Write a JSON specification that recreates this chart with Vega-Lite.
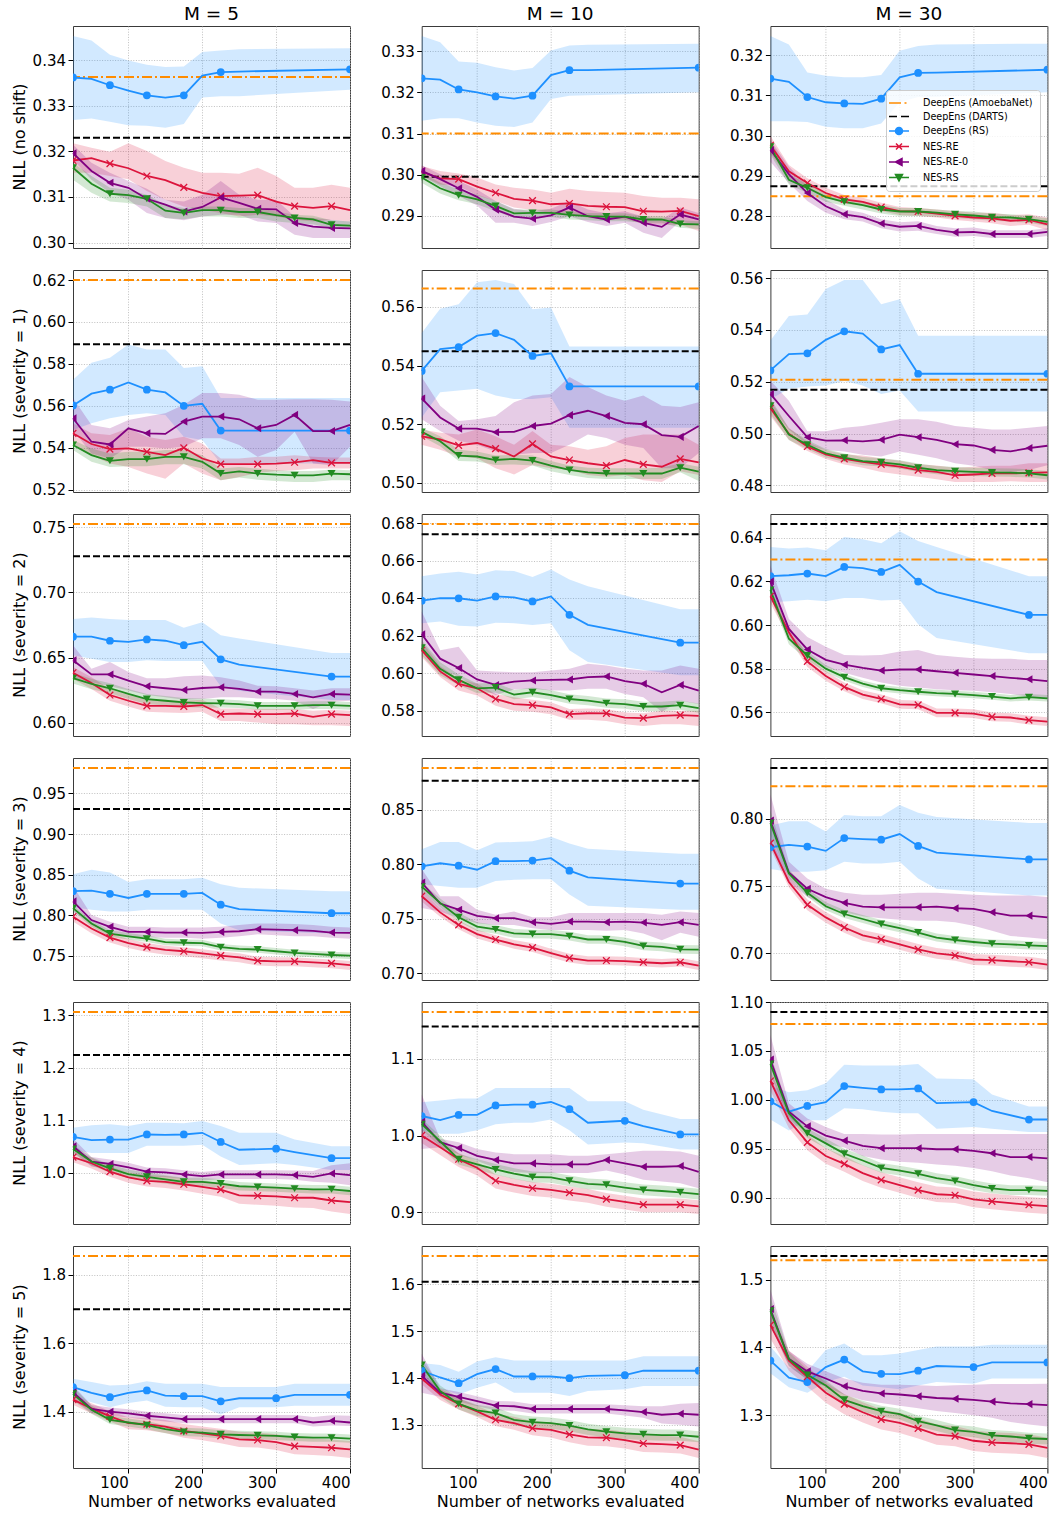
{
"$schema":"https://vega.github.io/schema/vega-lite/v6.json",
"padding":{"left":11,"top":4,"right":0,"bottom":0},
"datasets":{"d":[
{"r":0,"c":5,"s":"A","y":0.3363},{"r":0,"c":5,"s":"D","y":0.323},
{"r":0,"c":5,"s":"B","x":25,"y":0.3362,"l":0.3269,"h":0.3453},
{"r":0,"c":5,"s":"B","x":50,"y":0.3359,"l":0.3272,"h":0.3443},
{"r":0,"c":5,"s":"B","x":75,"y":0.3345,"l":0.3265,"h":0.3412},
{"r":0,"c":5,"s":"B","x":100,"y":0.3333,"l":0.3257,"h":0.3399},
{"r":0,"c":5,"s":"B","x":125,"y":0.3323,"l":0.3256,"h":0.339},
{"r":0,"c":5,"s":"B","x":150,"y":0.3318,"l":0.3252,"h":0.3385},
{"r":0,"c":5,"s":"B","x":175,"y":0.3323,"l":0.326,"h":0.3386},
{"r":0,"c":5,"s":"B","x":200,"y":0.3366,"l":0.3318,"h":0.3418},
{"r":0,"c":5,"s":"B","x":225,"y":0.3374,"l":0.3321,"h":0.3421},
{"r":0,"c":5,"s":"B","x":250,"y":0.3375,"l":0.3321,"h":0.3424},
{"r":0,"c":5,"s":"B","x":400,"y":0.338,"l":0.3335,"h":0.3426},
{"r":0,"c":5,"s":"R","x":25,"y":0.318,"l":0.3153,"h":0.3218},
{"r":0,"c":5,"s":"R","x":50,"y":0.3185,"l":0.3153,"h":0.3208},
{"r":0,"c":5,"s":"R","x":75,"y":0.3173,"l":0.3146,"h":0.3199},
{"r":0,"c":5,"s":"R","x":100,"y":0.3163,"l":0.3139,"h":0.3218},
{"r":0,"c":5,"s":"R","x":125,"y":0.3146,"l":0.3113,"h":0.3201},
{"r":0,"c":5,"s":"R","x":150,"y":0.3137,"l":0.3094,"h":0.3179},
{"r":0,"c":5,"s":"R","x":175,"y":0.3121,"l":0.3079,"h":0.3164},
{"r":0,"c":5,"s":"R","x":200,"y":0.3109,"l":0.3072,"h":0.3153},
{"r":0,"c":5,"s":"R","x":225,"y":0.3102,"l":0.3065,"h":0.3153},
{"r":0,"c":5,"s":"R","x":250,"y":0.3103,"l":0.3057,"h":0.3151},
{"r":0,"c":5,"s":"R","x":275,"y":0.3104,"l":0.3061,"h":0.3164},
{"r":0,"c":5,"s":"R","x":300,"y":0.309,"l":0.3057,"h":0.3146},
{"r":0,"c":5,"s":"R","x":325,"y":0.308,"l":0.305,"h":0.312},
{"r":0,"c":5,"s":"R","x":350,"y":0.3076,"l":0.3046,"h":0.312},
{"r":0,"c":5,"s":"R","x":375,"y":0.308,"l":0.305,"h":0.3127},
{"r":0,"c":5,"s":"R","x":400,"y":0.3071,"l":0.3046,"h":0.312},
{"r":0,"c":5,"s":"P","x":25,"y":0.3196,"l":0.3182,"h":0.3215},
{"r":0,"c":5,"s":"P","x":50,"y":0.3157,"l":0.3138,"h":0.3175},
{"r":0,"c":5,"s":"P","x":75,"y":0.3131,"l":0.3109,"h":0.3153},
{"r":0,"c":5,"s":"P","x":100,"y":0.312,"l":0.3094,"h":0.3135},
{"r":0,"c":5,"s":"P","x":125,"y":0.3096,"l":0.3065,"h":0.3118},
{"r":0,"c":5,"s":"P","x":150,"y":0.3083,"l":0.3054,"h":0.3094},
{"r":0,"c":5,"s":"P","x":175,"y":0.3068,"l":0.3049,"h":0.309},
{"r":0,"c":5,"s":"P","x":200,"y":0.3078,"l":0.3057,"h":0.3105},
{"r":0,"c":5,"s":"P","x":225,"y":0.3099,"l":0.3061,"h":0.3135},
{"r":0,"c":5,"s":"P","x":250,"y":0.3087,"l":0.3061,"h":0.3105},
{"r":0,"c":5,"s":"P","x":275,"y":0.3074,"l":0.3046,"h":0.3094},
{"r":0,"c":5,"s":"P","x":300,"y":0.3073,"l":0.3043,"h":0.3094},
{"r":0,"c":5,"s":"P","x":325,"y":0.3043,"l":0.3017,"h":0.3057},
{"r":0,"c":5,"s":"P","x":350,"y":0.3035,"l":0.301,"h":0.3054},
{"r":0,"c":5,"s":"P","x":375,"y":0.3032,"l":0.301,"h":0.305},
{"r":0,"c":5,"s":"P","x":400,"y":0.3031,"l":0.301,"h":0.3046},
{"r":0,"c":5,"s":"G","x":25,"y":0.3164,"l":0.3138,"h":0.3175},
{"r":0,"c":5,"s":"G","x":50,"y":0.3129,"l":0.3109,"h":0.3146},
{"r":0,"c":5,"s":"G","x":75,"y":0.3107,"l":0.309,"h":0.312},
{"r":0,"c":5,"s":"G","x":100,"y":0.3104,"l":0.3087,"h":0.3116},
{"r":0,"c":5,"s":"G","x":125,"y":0.3096,"l":0.3079,"h":0.3105},
{"r":0,"c":5,"s":"G","x":150,"y":0.307,"l":0.3054,"h":0.3083},
{"r":0,"c":5,"s":"G","x":175,"y":0.3065,"l":0.3051,"h":0.3076},
{"r":0,"c":5,"s":"G","x":200,"y":0.3071,"l":0.3057,"h":0.3079},
{"r":0,"c":5,"s":"G","x":225,"y":0.3071,"l":0.3057,"h":0.3079},
{"r":0,"c":5,"s":"G","x":250,"y":0.3067,"l":0.3054,"h":0.3076},
{"r":0,"c":5,"s":"G","x":275,"y":0.3067,"l":0.3054,"h":0.3076},
{"r":0,"c":5,"s":"G","x":300,"y":0.306,"l":0.3046,"h":0.3068},
{"r":0,"c":5,"s":"G","x":325,"y":0.3054,"l":0.3043,"h":0.3061},
{"r":0,"c":5,"s":"G","x":350,"y":0.3051,"l":0.304,"h":0.3059},
{"r":0,"c":5,"s":"G","x":375,"y":0.3039,"l":0.3032,"h":0.3049},
{"r":0,"c":5,"s":"G","x":400,"y":0.3037,"l":0.303,"h":0.3046},
{"r":0,"c":10,"s":"A","y":0.31},{"r":0,"c":10,"s":"D","y":0.2995},
{"r":0,"c":10,"s":"B","x":25,"y":0.3234,"l":0.3131,"h":0.3337},
{"r":0,"c":10,"s":"B","x":50,"y":0.3231,"l":0.3137,"h":0.3322},
{"r":0,"c":10,"s":"B","x":75,"y":0.3207,"l":0.3137,"h":0.3275},
{"r":0,"c":10,"s":"B","x":100,"y":0.32,"l":0.3127,"h":0.3272},
{"r":0,"c":10,"s":"B","x":125,"y":0.319,"l":0.3119,"h":0.3261},
{"r":0,"c":10,"s":"B","x":150,"y":0.3185,"l":0.3116,"h":0.3253},
{"r":0,"c":10,"s":"B","x":175,"y":0.3192,"l":0.3127,"h":0.3259},
{"r":0,"c":10,"s":"B","x":200,"y":0.3242,"l":0.3184,"h":0.3302},
{"r":0,"c":10,"s":"B","x":225,"y":0.3254,"l":0.3192,"h":0.3314},
{"r":0,"c":10,"s":"B","x":250,"y":0.3254,"l":0.3193,"h":0.3316},
{"r":0,"c":10,"s":"B","x":400,"y":0.326,"l":0.32,"h":0.3318},
{"r":0,"c":10,"s":"R","x":25,"y":0.3007,"l":0.2997,"h":0.3021},
{"r":0,"c":10,"s":"R","x":50,"y":0.2991,"l":0.2976,"h":0.3009},
{"r":0,"c":10,"s":"R","x":75,"y":0.2989,"l":0.2972,"h":0.3003},
{"r":0,"c":10,"s":"R","x":100,"y":0.2971,"l":0.295,"h":0.2993},
{"r":0,"c":10,"s":"R","x":125,"y":0.2956,"l":0.2936,"h":0.2976},
{"r":0,"c":10,"s":"R","x":150,"y":0.2941,"l":0.292,"h":0.2968},
{"r":0,"c":10,"s":"R","x":175,"y":0.2937,"l":0.2914,"h":0.2964},
{"r":0,"c":10,"s":"R","x":200,"y":0.2928,"l":0.2907,"h":0.2956},
{"r":0,"c":10,"s":"R","x":225,"y":0.293,"l":0.2903,"h":0.2966},
{"r":0,"c":10,"s":"R","x":250,"y":0.2924,"l":0.2895,"h":0.296},
{"r":0,"c":10,"s":"R","x":275,"y":0.2922,"l":0.2891,"h":0.2958},
{"r":0,"c":10,"s":"R","x":300,"y":0.2921,"l":0.2891,"h":0.2956},
{"r":0,"c":10,"s":"R","x":325,"y":0.2911,"l":0.2881,"h":0.2948},
{"r":0,"c":10,"s":"R","x":350,"y":0.291,"l":0.2878,"h":0.2944},
{"r":0,"c":10,"s":"R","x":375,"y":0.2912,"l":0.2878,"h":0.2944},
{"r":0,"c":10,"s":"R","x":400,"y":0.2899,"l":0.2863,"h":0.294},
{"r":0,"c":10,"s":"P","x":25,"y":0.3009,"l":0.2997,"h":0.3023},
{"r":0,"c":10,"s":"P","x":50,"y":0.2989,"l":0.2972,"h":0.3001},
{"r":0,"c":10,"s":"P","x":75,"y":0.2967,"l":0.2948,"h":0.2985},
{"r":0,"c":10,"s":"P","x":100,"y":0.2946,"l":0.2925,"h":0.2964},
{"r":0,"c":10,"s":"P","x":125,"y":0.2915,"l":0.2883,"h":0.2936},
{"r":0,"c":10,"s":"P","x":150,"y":0.2898,"l":0.2883,"h":0.2917},
{"r":0,"c":10,"s":"P","x":175,"y":0.2893,"l":0.2875,"h":0.2911},
{"r":0,"c":10,"s":"P","x":200,"y":0.2901,"l":0.2885,"h":0.2917},
{"r":0,"c":10,"s":"P","x":225,"y":0.292,"l":0.2899,"h":0.2936},
{"r":0,"c":10,"s":"P","x":250,"y":0.2899,"l":0.2885,"h":0.2915},
{"r":0,"c":10,"s":"P","x":275,"y":0.2891,"l":0.2875,"h":0.2906},
{"r":0,"c":10,"s":"P","x":300,"y":0.2898,"l":0.2883,"h":0.2911},
{"r":0,"c":10,"s":"P","x":325,"y":0.2883,"l":0.2859,"h":0.2898},
{"r":0,"c":10,"s":"P","x":350,"y":0.2873,"l":0.2846,"h":0.2891},
{"r":0,"c":10,"s":"P","x":375,"y":0.2903,"l":0.2887,"h":0.292},
{"r":0,"c":10,"s":"P","x":400,"y":0.2891,"l":0.2875,"h":0.2907},
{"r":0,"c":10,"s":"G","x":25,"y":0.2993,"l":0.298,"h":0.3005},
{"r":0,"c":10,"s":"G","x":50,"y":0.2967,"l":0.2954,"h":0.298},
{"r":0,"c":10,"s":"G","x":75,"y":0.295,"l":0.2938,"h":0.2964},
{"r":0,"c":10,"s":"G","x":100,"y":0.294,"l":0.2928,"h":0.2952},
{"r":0,"c":10,"s":"G","x":125,"y":0.2924,"l":0.2911,"h":0.2936},
{"r":0,"c":10,"s":"G","x":150,"y":0.2906,"l":0.2895,"h":0.2915},
{"r":0,"c":10,"s":"G","x":175,"y":0.2907,"l":0.2895,"h":0.2915},
{"r":0,"c":10,"s":"G","x":200,"y":0.2907,"l":0.2897,"h":0.2915},
{"r":0,"c":10,"s":"G","x":225,"y":0.2902,"l":0.2891,"h":0.2911},
{"r":0,"c":10,"s":"G","x":250,"y":0.2899,"l":0.2889,"h":0.2907},
{"r":0,"c":10,"s":"G","x":275,"y":0.2898,"l":0.2887,"h":0.2906},
{"r":0,"c":10,"s":"G","x":300,"y":0.2898,"l":0.2887,"h":0.2906},
{"r":0,"c":10,"s":"G","x":325,"y":0.2891,"l":0.2883,"h":0.2899},
{"r":0,"c":10,"s":"G","x":350,"y":0.2891,"l":0.2883,"h":0.2899},
{"r":0,"c":10,"s":"G","x":375,"y":0.288,"l":0.2871,"h":0.2889},
{"r":0,"c":10,"s":"G","x":400,"y":0.2879,"l":0.2868,"h":0.2887},
{"r":0,"c":30,"s":"A","y":0.2849},{"r":0,"c":30,"s":"D","y":0.2874},
{"r":0,"c":30,"s":"B","x":25,"y":0.3142,"l":0.3036,"h":0.3248},
{"r":0,"c":30,"s":"B","x":50,"y":0.3134,"l":0.3036,"h":0.3227},
{"r":0,"c":30,"s":"B","x":75,"y":0.3096,"l":0.3034,"h":0.3157},
{"r":0,"c":30,"s":"B","x":100,"y":0.3083,"l":0.3022,"h":0.3149},
{"r":0,"c":30,"s":"B","x":125,"y":0.308,"l":0.3018,"h":0.3145},
{"r":0,"c":30,"s":"B","x":150,"y":0.3079,"l":0.3018,"h":0.3145},
{"r":0,"c":30,"s":"B","x":175,"y":0.3092,"l":0.303,"h":0.3151},
{"r":0,"c":30,"s":"B","x":200,"y":0.3145,"l":0.3083,"h":0.3211},
{"r":0,"c":30,"s":"B","x":225,"y":0.3156,"l":0.3096,"h":0.3223},
{"r":0,"c":30,"s":"B","x":250,"y":0.3157,"l":0.3097,"h":0.3227},
{"r":0,"c":30,"s":"B","x":400,"y":0.3164,"l":0.3108,"h":0.3229},
{"r":0,"c":30,"s":"R","x":25,"y":0.2976,"l":0.2956,"h":0.2999},
{"r":0,"c":30,"s":"R","x":50,"y":0.2911,"l":0.2894,"h":0.2927},
{"r":0,"c":30,"s":"R","x":75,"y":0.2882,"l":0.287,"h":0.2894},
{"r":0,"c":30,"s":"R","x":100,"y":0.2857,"l":0.2847,"h":0.287},
{"r":0,"c":30,"s":"R","x":125,"y":0.2841,"l":0.283,"h":0.2852},
{"r":0,"c":30,"s":"R","x":150,"y":0.2835,"l":0.2825,"h":0.2845},
{"r":0,"c":30,"s":"R","x":175,"y":0.2822,"l":0.2812,"h":0.2833},
{"r":0,"c":30,"s":"R","x":200,"y":0.2812,"l":0.2802,"h":0.2822},
{"r":0,"c":30,"s":"R","x":225,"y":0.2811,"l":0.28,"h":0.282},
{"r":0,"c":30,"s":"R","x":250,"y":0.2806,"l":0.2796,"h":0.2816},
{"r":0,"c":30,"s":"R","x":275,"y":0.28,"l":0.279,"h":0.2812},
{"r":0,"c":30,"s":"R","x":300,"y":0.2796,"l":0.2786,"h":0.2808},
{"r":0,"c":30,"s":"R","x":325,"y":0.2794,"l":0.2782,"h":0.2808},
{"r":0,"c":30,"s":"R","x":350,"y":0.2788,"l":0.2775,"h":0.2802},
{"r":0,"c":30,"s":"R","x":375,"y":0.279,"l":0.2778,"h":0.2804},
{"r":0,"c":30,"s":"R","x":400,"y":0.2779,"l":0.2764,"h":0.2796},
{"r":0,"c":30,"s":"P","x":25,"y":0.2964,"l":0.2935,"h":0.2989},
{"r":0,"c":30,"s":"P","x":50,"y":0.2904,"l":0.2882,"h":0.2923},
{"r":0,"c":30,"s":"P","x":75,"y":0.2857,"l":0.2837,"h":0.2874},
{"r":0,"c":30,"s":"P","x":100,"y":0.2824,"l":0.2808,"h":0.2841},
{"r":0,"c":30,"s":"P","x":125,"y":0.2804,"l":0.2792,"h":0.2816},
{"r":0,"c":30,"s":"P","x":150,"y":0.2797,"l":0.2786,"h":0.2808},
{"r":0,"c":30,"s":"P","x":175,"y":0.2781,"l":0.2769,"h":0.2792},
{"r":0,"c":30,"s":"P","x":200,"y":0.2773,"l":0.2761,"h":0.2784},
{"r":0,"c":30,"s":"P","x":225,"y":0.2775,"l":0.2763,"h":0.2787},
{"r":0,"c":30,"s":"P","x":250,"y":0.2765,"l":0.2755,"h":0.2775},
{"r":0,"c":30,"s":"P","x":275,"y":0.2759,"l":0.2748,"h":0.2769},
{"r":0,"c":30,"s":"P","x":300,"y":0.276,"l":0.275,"h":0.2771},
{"r":0,"c":30,"s":"P","x":325,"y":0.2755,"l":0.2745,"h":0.2764},
{"r":0,"c":30,"s":"P","x":350,"y":0.2755,"l":0.2745,"h":0.2764},
{"r":0,"c":30,"s":"P","x":375,"y":0.2755,"l":0.2745,"h":0.2764},
{"r":0,"c":30,"s":"P","x":400,"y":0.276,"l":0.275,"h":0.2769},
{"r":0,"c":30,"s":"G","x":25,"y":0.2972,"l":0.2952,"h":0.2989},
{"r":0,"c":30,"s":"G","x":50,"y":0.289,"l":0.2878,"h":0.2903},
{"r":0,"c":30,"s":"G","x":75,"y":0.287,"l":0.2857,"h":0.288},
{"r":0,"c":30,"s":"G","x":100,"y":0.2847,"l":0.2835,"h":0.2857},
{"r":0,"c":30,"s":"G","x":125,"y":0.2835,"l":0.2825,"h":0.2845},
{"r":0,"c":30,"s":"G","x":150,"y":0.2827,"l":0.2816,"h":0.2837},
{"r":0,"c":30,"s":"G","x":175,"y":0.2816,"l":0.2806,"h":0.2827},
{"r":0,"c":30,"s":"G","x":200,"y":0.2811,"l":0.28,"h":0.282},
{"r":0,"c":30,"s":"G","x":225,"y":0.2811,"l":0.28,"h":0.282},
{"r":0,"c":30,"s":"G","x":250,"y":0.2808,"l":0.2798,"h":0.2816},
{"r":0,"c":30,"s":"G","x":275,"y":0.2804,"l":0.2795,"h":0.2812},
{"r":0,"c":30,"s":"G","x":300,"y":0.2801,"l":0.2792,"h":0.2811},
{"r":0,"c":30,"s":"G","x":325,"y":0.2797,"l":0.2788,"h":0.2806},
{"r":0,"c":30,"s":"G","x":350,"y":0.2796,"l":0.2786,"h":0.2804},
{"r":0,"c":30,"s":"G","x":375,"y":0.2792,"l":0.2783,"h":0.28},
{"r":0,"c":30,"s":"G","x":400,"y":0.2785,"l":0.2775,"h":0.2794},
{"r":1,"c":5,"s":"A","y":0.62},{"r":1,"c":5,"s":"D","y":0.5894},
{"r":1,"c":5,"s":"B","x":25,"y":0.5602,"l":0.5485,"h":0.5725},
{"r":1,"c":5,"s":"B","x":50,"y":0.5658,"l":0.5517,"h":0.5805},
{"r":1,"c":5,"s":"B","x":75,"y":0.5677,"l":0.5541,"h":0.5829},
{"r":1,"c":5,"s":"B","x":100,"y":0.5712,"l":0.5557,"h":0.5893},
{"r":1,"c":5,"s":"B","x":125,"y":0.5677,"l":0.5565,"h":0.5869},
{"r":1,"c":5,"s":"B","x":150,"y":0.5664,"l":0.5557,"h":0.5869},
{"r":1,"c":5,"s":"B","x":175,"y":0.56,"l":0.5453,"h":0.5781},
{"r":1,"c":5,"s":"B","x":200,"y":0.561,"l":0.5437,"h":0.5789},
{"r":1,"c":5,"s":"B","x":225,"y":0.5482,"l":0.5325,"h":0.5637},
{"r":1,"c":5,"s":"B","x":250,"y":0.5482,"l":0.5325,"h":0.5637},
{"r":1,"c":5,"s":"B","x":400,"y":0.5482,"l":0.5325,"h":0.5637},
{"r":1,"c":5,"s":"R","x":25,"y":0.5469,"l":0.5421,"h":0.5517},
{"r":1,"c":5,"s":"R","x":50,"y":0.5418,"l":0.5365,"h":0.5469},
{"r":1,"c":5,"s":"R","x":75,"y":0.5394,"l":0.5325,"h":0.5461},
{"r":1,"c":5,"s":"R","x":100,"y":0.5397,"l":0.5309,"h":0.5493},
{"r":1,"c":5,"s":"R","x":125,"y":0.5381,"l":0.5277,"h":0.5453},
{"r":1,"c":5,"s":"R","x":150,"y":0.5365,"l":0.5253,"h":0.5437},
{"r":1,"c":5,"s":"R","x":175,"y":0.54,"l":0.5325,"h":0.5453},
{"r":1,"c":5,"s":"R","x":200,"y":0.5349,"l":0.5277,"h":0.5421},
{"r":1,"c":5,"s":"R","x":225,"y":0.5322,"l":0.5245,"h":0.5349},
{"r":1,"c":5,"s":"R","x":250,"y":0.5322,"l":0.5261,"h":0.5349},
{"r":1,"c":5,"s":"R","x":275,"y":0.5322,"l":0.528,"h":0.5357},
{"r":1,"c":5,"s":"R","x":300,"y":0.5325,"l":0.529,"h":0.5357},
{"r":1,"c":5,"s":"R","x":325,"y":0.5331,"l":0.5293,"h":0.5365},
{"r":1,"c":5,"s":"R","x":350,"y":0.5341,"l":0.5301,"h":0.5357},
{"r":1,"c":5,"s":"R","x":375,"y":0.5328,"l":0.5301,"h":0.5354},
{"r":1,"c":5,"s":"R","x":400,"y":0.5328,"l":0.5301,"h":0.5354},
{"r":1,"c":5,"s":"P","x":25,"y":0.5541,"l":0.5485,"h":0.5637},
{"r":1,"c":5,"s":"P","x":50,"y":0.5429,"l":0.5373,"h":0.5509},
{"r":1,"c":5,"s":"P","x":75,"y":0.5416,"l":0.5349,"h":0.5493},
{"r":1,"c":5,"s":"P","x":100,"y":0.5493,"l":0.5405,"h":0.5533},
{"r":1,"c":5,"s":"P","x":125,"y":0.5469,"l":0.5405,"h":0.5549},
{"r":1,"c":5,"s":"P","x":150,"y":0.5466,"l":0.5397,"h":0.5565},
{"r":1,"c":5,"s":"P","x":175,"y":0.5525,"l":0.5405,"h":0.5605},
{"r":1,"c":5,"s":"P","x":200,"y":0.5549,"l":0.5445,"h":0.5661},
{"r":1,"c":5,"s":"P","x":225,"y":0.5549,"l":0.5445,"h":0.5661},
{"r":1,"c":5,"s":"P","x":250,"y":0.5536,"l":0.5413,"h":0.5653},
{"r":1,"c":5,"s":"P","x":275,"y":0.5493,"l":0.5357,"h":0.5629},
{"r":1,"c":5,"s":"P","x":300,"y":0.5509,"l":0.5389,"h":0.5629},
{"r":1,"c":5,"s":"P","x":325,"y":0.5557,"l":0.5477,"h":0.5632},
{"r":1,"c":5,"s":"P","x":350,"y":0.548,"l":0.5325,"h":0.5632},
{"r":1,"c":5,"s":"P","x":375,"y":0.548,"l":0.5317,"h":0.5629},
{"r":1,"c":5,"s":"P","x":400,"y":0.5509,"l":0.5405,"h":0.5621},
{"r":1,"c":5,"s":"G","x":25,"y":0.5413,"l":0.5389,"h":0.5437},
{"r":1,"c":5,"s":"G","x":50,"y":0.5365,"l":0.5333,"h":0.5397},
{"r":1,"c":5,"s":"G","x":75,"y":0.5338,"l":0.5309,"h":0.5373},
{"r":1,"c":5,"s":"G","x":100,"y":0.5346,"l":0.5312,"h":0.5381},
{"r":1,"c":5,"s":"G","x":125,"y":0.5346,"l":0.5312,"h":0.5381},
{"r":1,"c":5,"s":"G","x":150,"y":0.5357,"l":0.5322,"h":0.5389},
{"r":1,"c":5,"s":"G","x":175,"y":0.5357,"l":0.5322,"h":0.5389},
{"r":1,"c":5,"s":"G","x":200,"y":0.5333,"l":0.5301,"h":0.5365},
{"r":1,"c":5,"s":"G","x":225,"y":0.5277,"l":0.5245,"h":0.5301},
{"r":1,"c":5,"s":"G","x":250,"y":0.5288,"l":0.5258,"h":0.5309},
{"r":1,"c":5,"s":"G","x":275,"y":0.5277,"l":0.5248,"h":0.5301},
{"r":1,"c":5,"s":"G","x":300,"y":0.5272,"l":0.5242,"h":0.5293},
{"r":1,"c":5,"s":"G","x":325,"y":0.5269,"l":0.5237,"h":0.529},
{"r":1,"c":5,"s":"G","x":350,"y":0.5269,"l":0.5237,"h":0.529},
{"r":1,"c":5,"s":"G","x":375,"y":0.5277,"l":0.5245,"h":0.5297},
{"r":1,"c":5,"s":"G","x":400,"y":0.5274,"l":0.5245,"h":0.5293},
{"r":1,"c":10,"s":"A","y":0.5663},{"r":1,"c":10,"s":"D","y":0.5449},
{"r":1,"c":10,"s":"B","x":25,"y":0.5382,"l":0.5223,"h":0.5511},
{"r":1,"c":10,"s":"B","x":50,"y":0.5456,"l":0.5309,"h":0.5594},
{"r":1,"c":10,"s":"B","x":75,"y":0.5463,"l":0.5315,"h":0.5609},
{"r":1,"c":10,"s":"B","x":100,"y":0.5502,"l":0.5321,"h":0.5684},
{"r":1,"c":10,"s":"B","x":125,"y":0.5511,"l":0.5298,"h":0.5692},
{"r":1,"c":10,"s":"B","x":150,"y":0.5488,"l":0.5286,"h":0.5678},
{"r":1,"c":10,"s":"B","x":175,"y":0.5433,"l":0.5286,"h":0.5592},
{"r":1,"c":10,"s":"B","x":200,"y":0.5442,"l":0.5292,"h":0.5598},
{"r":1,"c":10,"s":"B","x":225,"y":0.5329,"l":0.5188,"h":0.5465},
{"r":1,"c":10,"s":"B","x":250,"y":0.5329,"l":0.5188,"h":0.5465},
{"r":1,"c":10,"s":"B","x":400,"y":0.5329,"l":0.5188,"h":0.5465},
{"r":1,"c":10,"s":"R","x":25,"y":0.5159,"l":0.513,"h":0.5182},
{"r":1,"c":10,"s":"R","x":50,"y":0.5148,"l":0.5113,"h":0.5171},
{"r":1,"c":10,"s":"R","x":75,"y":0.5128,"l":0.509,"h":0.5165},
{"r":1,"c":10,"s":"R","x":100,"y":0.5136,"l":0.5084,"h":0.5182},
{"r":1,"c":10,"s":"R","x":125,"y":0.5117,"l":0.505,"h":0.5159},
{"r":1,"c":10,"s":"R","x":150,"y":0.509,"l":0.5029,"h":0.513},
{"r":1,"c":10,"s":"R","x":175,"y":0.5133,"l":0.5061,"h":0.5177},
{"r":1,"c":10,"s":"R","x":200,"y":0.509,"l":0.505,"h":0.513},
{"r":1,"c":10,"s":"R","x":225,"y":0.5078,"l":0.5044,"h":0.5125},
{"r":1,"c":10,"s":"R","x":250,"y":0.5067,"l":0.5027,"h":0.5113},
{"r":1,"c":10,"s":"R","x":275,"y":0.5059,"l":0.5021,"h":0.5125},
{"r":1,"c":10,"s":"R","x":300,"y":0.5078,"l":0.5027,"h":0.5153},
{"r":1,"c":10,"s":"R","x":325,"y":0.5063,"l":0.5009,"h":0.5165},
{"r":1,"c":10,"s":"R","x":350,"y":0.5055,"l":0.5003,"h":0.5165},
{"r":1,"c":10,"s":"R","x":375,"y":0.5082,"l":0.504,"h":0.5165},
{"r":1,"c":10,"s":"R","x":400,"y":0.507,"l":0.5027,"h":0.513},
{"r":1,"c":10,"s":"P","x":25,"y":0.5288,"l":0.5217,"h":0.5361},
{"r":1,"c":10,"s":"P","x":50,"y":0.5223,"l":0.5177,"h":0.5263},
{"r":1,"c":10,"s":"P","x":75,"y":0.5185,"l":0.5144,"h":0.5211},
{"r":1,"c":10,"s":"P","x":100,"y":0.5185,"l":0.513,"h":0.5217},
{"r":1,"c":10,"s":"P","x":125,"y":0.5173,"l":0.5107,"h":0.5228},
{"r":1,"c":10,"s":"P","x":150,"y":0.5174,"l":0.5096,"h":0.5275},
{"r":1,"c":10,"s":"P","x":175,"y":0.5194,"l":0.5102,"h":0.5298},
{"r":1,"c":10,"s":"P","x":200,"y":0.5202,"l":0.5102,"h":0.5303},
{"r":1,"c":10,"s":"P","x":225,"y":0.5231,"l":0.513,"h":0.5361},
{"r":1,"c":10,"s":"P","x":250,"y":0.5246,"l":0.5165,"h":0.5327},
{"r":1,"c":10,"s":"P","x":275,"y":0.5228,"l":0.5153,"h":0.5298},
{"r":1,"c":10,"s":"P","x":300,"y":0.5205,"l":0.513,"h":0.528},
{"r":1,"c":10,"s":"P","x":325,"y":0.52,"l":0.5119,"h":0.5298},
{"r":1,"c":10,"s":"P","x":350,"y":0.5163,"l":0.505,"h":0.5263},
{"r":1,"c":10,"s":"P","x":375,"y":0.5157,"l":0.505,"h":0.5259},
{"r":1,"c":10,"s":"P","x":400,"y":0.5194,"l":0.5102,"h":0.5275},
{"r":1,"c":10,"s":"G","x":25,"y":0.5174,"l":0.5159,"h":0.5188},
{"r":1,"c":10,"s":"G","x":50,"y":0.5142,"l":0.5125,"h":0.5159},
{"r":1,"c":10,"s":"G","x":75,"y":0.5093,"l":0.5075,"h":0.5113},
{"r":1,"c":10,"s":"G","x":100,"y":0.509,"l":0.5073,"h":0.5107},
{"r":1,"c":10,"s":"G","x":125,"y":0.5078,"l":0.5061,"h":0.5093},
{"r":1,"c":10,"s":"G","x":150,"y":0.5082,"l":0.5063,"h":0.5096},
{"r":1,"c":10,"s":"G","x":175,"y":0.5076,"l":0.5059,"h":0.5093},
{"r":1,"c":10,"s":"G","x":200,"y":0.5059,"l":0.504,"h":0.5075},
{"r":1,"c":10,"s":"G","x":225,"y":0.5044,"l":0.5027,"h":0.5059},
{"r":1,"c":10,"s":"G","x":250,"y":0.5036,"l":0.5017,"h":0.5052},
{"r":1,"c":10,"s":"G","x":275,"y":0.5032,"l":0.5013,"h":0.505},
{"r":1,"c":10,"s":"G","x":300,"y":0.5032,"l":0.5013,"h":0.505},
{"r":1,"c":10,"s":"G","x":325,"y":0.5032,"l":0.5013,"h":0.505},
{"r":1,"c":10,"s":"G","x":350,"y":0.5032,"l":0.5013,"h":0.5052},
{"r":1,"c":10,"s":"G","x":375,"y":0.5052,"l":0.5036,"h":0.5067},
{"r":1,"c":10,"s":"G","x":400,"y":0.5038,"l":0.5006,"h":0.5055},
{"r":1,"c":30,"s":"A","y":0.5208},{"r":1,"c":30,"s":"D","y":0.5169},
{"r":1,"c":30,"s":"B","x":25,"y":0.5244,"l":0.5133,"h":0.5359},
{"r":1,"c":30,"s":"B","x":50,"y":0.5307,"l":0.5173,"h":0.5454},
{"r":1,"c":30,"s":"B","x":75,"y":0.531,"l":0.5182,"h":0.546},
{"r":1,"c":30,"s":"B","x":100,"y":0.5362,"l":0.5186,"h":0.5558},
{"r":1,"c":30,"s":"B","x":125,"y":0.5395,"l":0.5203,"h":0.5593},
{"r":1,"c":30,"s":"B","x":150,"y":0.5386,"l":0.5186,"h":0.5593},
{"r":1,"c":30,"s":"B","x":175,"y":0.5325,"l":0.5153,"h":0.5499},
{"r":1,"c":30,"s":"B","x":200,"y":0.5342,"l":0.5166,"h":0.5519},
{"r":1,"c":30,"s":"B","x":225,"y":0.5231,"l":0.5085,"h":0.5378},
{"r":1,"c":30,"s":"B","x":250,"y":0.5231,"l":0.5085,"h":0.5378},
{"r":1,"c":30,"s":"B","x":400,"y":0.5231,"l":0.5085,"h":0.5378},
{"r":1,"c":30,"s":"R","x":25,"y":0.5098,"l":0.5068,"h":0.5127},
{"r":1,"c":30,"s":"R","x":50,"y":0.4999,"l":0.4976,"h":0.5022},
{"r":1,"c":30,"s":"R","x":75,"y":0.495,"l":0.4933,"h":0.4967},
{"r":1,"c":30,"s":"R","x":100,"y":0.492,"l":0.4902,"h":0.4937},
{"r":1,"c":30,"s":"R","x":125,"y":0.4902,"l":0.4881,"h":0.492},
{"r":1,"c":30,"s":"R","x":150,"y":0.4891,"l":0.4868,"h":0.4915},
{"r":1,"c":30,"s":"R","x":175,"y":0.4881,"l":0.4852,"h":0.4905},
{"r":1,"c":30,"s":"R","x":200,"y":0.4872,"l":0.4842,"h":0.4895},
{"r":1,"c":30,"s":"R","x":225,"y":0.4859,"l":0.4833,"h":0.4882},
{"r":1,"c":30,"s":"R","x":250,"y":0.4852,"l":0.4824,"h":0.4877},
{"r":1,"c":30,"s":"R","x":275,"y":0.4839,"l":0.4813,"h":0.4868},
{"r":1,"c":30,"s":"R","x":300,"y":0.4842,"l":0.4813,"h":0.4872},
{"r":1,"c":30,"s":"R","x":325,"y":0.4846,"l":0.4813,"h":0.4876},
{"r":1,"c":30,"s":"R","x":350,"y":0.4846,"l":0.4816,"h":0.4876},
{"r":1,"c":30,"s":"R","x":375,"y":0.4848,"l":0.4813,"h":0.4885},
{"r":1,"c":30,"s":"R","x":400,"y":0.485,"l":0.4813,"h":0.4885},
{"r":1,"c":30,"s":"P","x":25,"y":0.5153,"l":0.5107,"h":0.5205},
{"r":1,"c":30,"s":"P","x":50,"y":0.5068,"l":0.5016,"h":0.5127},
{"r":1,"c":30,"s":"P","x":75,"y":0.4986,"l":0.4957,"h":0.5009},
{"r":1,"c":30,"s":"P","x":100,"y":0.4973,"l":0.4937,"h":0.5009},
{"r":1,"c":30,"s":"P","x":125,"y":0.4974,"l":0.4931,"h":0.5022},
{"r":1,"c":30,"s":"P","x":150,"y":0.497,"l":0.4918,"h":0.5029},
{"r":1,"c":30,"s":"P","x":175,"y":0.4976,"l":0.4911,"h":0.5042},
{"r":1,"c":30,"s":"P","x":200,"y":0.4996,"l":0.4931,"h":0.5055},
{"r":1,"c":30,"s":"P","x":225,"y":0.4986,"l":0.4918,"h":0.5055},
{"r":1,"c":30,"s":"P","x":250,"y":0.4976,"l":0.4905,"h":0.5046},
{"r":1,"c":30,"s":"P","x":275,"y":0.4959,"l":0.4885,"h":0.5029},
{"r":1,"c":30,"s":"P","x":300,"y":0.4954,"l":0.4876,"h":0.5022},
{"r":1,"c":30,"s":"P","x":325,"y":0.4937,"l":0.4859,"h":0.5016},
{"r":1,"c":30,"s":"P","x":350,"y":0.4931,"l":0.4852,"h":0.5016},
{"r":1,"c":30,"s":"P","x":375,"y":0.4944,"l":0.4859,"h":0.5022},
{"r":1,"c":30,"s":"P","x":400,"y":0.4953,"l":0.4878,"h":0.5029},
{"r":1,"c":30,"s":"G","x":25,"y":0.5107,"l":0.5077,"h":0.5137},
{"r":1,"c":30,"s":"G","x":50,"y":0.4996,"l":0.4975,"h":0.502},
{"r":1,"c":30,"s":"G","x":75,"y":0.4957,"l":0.494,"h":0.4975},
{"r":1,"c":30,"s":"G","x":100,"y":0.4924,"l":0.4908,"h":0.494},
{"r":1,"c":30,"s":"G","x":125,"y":0.4907,"l":0.4891,"h":0.4923},
{"r":1,"c":30,"s":"G","x":150,"y":0.4894,"l":0.4878,"h":0.491},
{"r":1,"c":30,"s":"G","x":175,"y":0.4889,"l":0.4873,"h":0.4905},
{"r":1,"c":30,"s":"G","x":200,"y":0.4881,"l":0.4865,"h":0.4897},
{"r":1,"c":30,"s":"G","x":225,"y":0.4868,"l":0.4852,"h":0.4884},
{"r":1,"c":30,"s":"G","x":250,"y":0.4859,"l":0.4843,"h":0.4875},
{"r":1,"c":30,"s":"G","x":275,"y":0.4855,"l":0.4839,"h":0.4871},
{"r":1,"c":30,"s":"G","x":300,"y":0.4852,"l":0.4836,"h":0.4868},
{"r":1,"c":30,"s":"G","x":325,"y":0.485,"l":0.4834,"h":0.4866},
{"r":1,"c":30,"s":"G","x":350,"y":0.4849,"l":0.4833,"h":0.4865},
{"r":1,"c":30,"s":"G","x":375,"y":0.4846,"l":0.483,"h":0.4862},
{"r":1,"c":30,"s":"G","x":400,"y":0.4839,"l":0.4823,"h":0.4855},
{"r":2,"c":5,"s":"A","y":0.7526},{"r":2,"c":5,"s":"D","y":0.7278},
{"r":2,"c":5,"s":"B","x":25,"y":0.666,"l":0.6517,"h":0.6797},
{"r":2,"c":5,"s":"B","x":50,"y":0.666,"l":0.6491,"h":0.6807},
{"r":2,"c":5,"s":"B","x":75,"y":0.6629,"l":0.6466,"h":0.6797},
{"r":2,"c":5,"s":"B","x":100,"y":0.6621,"l":0.6466,"h":0.6789},
{"r":2,"c":5,"s":"B","x":125,"y":0.6639,"l":0.6479,"h":0.6789},
{"r":2,"c":5,"s":"B","x":150,"y":0.6629,"l":0.6474,"h":0.6789},
{"r":2,"c":5,"s":"B","x":175,"y":0.6595,"l":0.6474,"h":0.6729},
{"r":2,"c":5,"s":"B","x":200,"y":0.6621,"l":0.6474,"h":0.6771},
{"r":2,"c":5,"s":"B","x":225,"y":0.6486,"l":0.6279,"h":0.6672},
{"r":2,"c":5,"s":"B","x":250,"y":0.6445,"l":0.6245,"h":0.6647},
{"r":2,"c":5,"s":"B","x":375,"y":0.6354,"l":0.6173,"h":0.6535},
{"r":2,"c":5,"s":"B","x":400,"y":0.6354,"l":0.6173,"h":0.6535},
{"r":2,"c":5,"s":"R","x":25,"y":0.6383,"l":0.6336,"h":0.6427},
{"r":2,"c":5,"s":"R","x":50,"y":0.6305,"l":0.6259,"h":0.6349},
{"r":2,"c":5,"s":"R","x":75,"y":0.6212,"l":0.6168,"h":0.6259},
{"r":2,"c":5,"s":"R","x":100,"y":0.6168,"l":0.6124,"h":0.6212},
{"r":2,"c":5,"s":"R","x":125,"y":0.6129,"l":0.6083,"h":0.6176},
{"r":2,"c":5,"s":"R","x":150,"y":0.6129,"l":0.6078,"h":0.6176},
{"r":2,"c":5,"s":"R","x":175,"y":0.6124,"l":0.6073,"h":0.6168},
{"r":2,"c":5,"s":"R","x":200,"y":0.6135,"l":0.6083,"h":0.6176},
{"r":2,"c":5,"s":"R","x":225,"y":0.6065,"l":0.6013,"h":0.6109},
{"r":2,"c":5,"s":"R","x":250,"y":0.607,"l":0.6013,"h":0.6109},
{"r":2,"c":5,"s":"R","x":275,"y":0.6065,"l":0.6,"h":0.6104},
{"r":2,"c":5,"s":"R","x":300,"y":0.6065,"l":0.5987,"h":0.6104},
{"r":2,"c":5,"s":"R","x":325,"y":0.607,"l":0.5987,"h":0.6104},
{"r":2,"c":5,"s":"R","x":350,"y":0.6044,"l":0.598,"h":0.6091},
{"r":2,"c":5,"s":"R","x":375,"y":0.6065,"l":0.598,"h":0.6099},
{"r":2,"c":5,"s":"R","x":400,"y":0.6057,"l":0.5974,"h":0.6091},
{"r":2,"c":5,"s":"P","x":25,"y":0.6479,"l":0.6349,"h":0.6595},
{"r":2,"c":5,"s":"P","x":50,"y":0.637,"l":0.631,"h":0.6414},
{"r":2,"c":5,"s":"P","x":75,"y":0.637,"l":0.6279,"h":0.6466},
{"r":2,"c":5,"s":"P","x":100,"y":0.6323,"l":0.6246,"h":0.6388},
{"r":2,"c":5,"s":"P","x":125,"y":0.6279,"l":0.6212,"h":0.6341},
{"r":2,"c":5,"s":"P","x":150,"y":0.6264,"l":0.6194,"h":0.6341},
{"r":2,"c":5,"s":"P","x":175,"y":0.6251,"l":0.6176,"h":0.6357},
{"r":2,"c":5,"s":"P","x":200,"y":0.6266,"l":0.6181,"h":0.6362},
{"r":2,"c":5,"s":"P","x":225,"y":0.6272,"l":0.6194,"h":0.6349},
{"r":2,"c":5,"s":"P","x":250,"y":0.6259,"l":0.6194,"h":0.6323},
{"r":2,"c":5,"s":"P","x":275,"y":0.6238,"l":0.6186,"h":0.6284},
{"r":2,"c":5,"s":"P","x":300,"y":0.6238,"l":0.6181,"h":0.6279},
{"r":2,"c":5,"s":"P","x":325,"y":0.622,"l":0.6168,"h":0.6264},
{"r":2,"c":5,"s":"P","x":350,"y":0.6194,"l":0.6104,"h":0.6246},
{"r":2,"c":5,"s":"P","x":375,"y":0.622,"l":0.616,"h":0.6264},
{"r":2,"c":5,"s":"P","x":400,"y":0.6215,"l":0.6168,"h":0.6264},
{"r":2,"c":5,"s":"G","x":25,"y":0.6341,"l":0.6301,"h":0.6381},
{"r":2,"c":5,"s":"G","x":50,"y":0.6297,"l":0.6257,"h":0.6337},
{"r":2,"c":5,"s":"G","x":75,"y":0.6264,"l":0.6226,"h":0.6302},
{"r":2,"c":5,"s":"G","x":100,"y":0.622,"l":0.6182,"h":0.6258},
{"r":2,"c":5,"s":"G","x":125,"y":0.6181,"l":0.6143,"h":0.6219},
{"r":2,"c":5,"s":"G","x":150,"y":0.6168,"l":0.6131,"h":0.6205},
{"r":2,"c":5,"s":"G","x":175,"y":0.6155,"l":0.612,"h":0.619},
{"r":2,"c":5,"s":"G","x":200,"y":0.615,"l":0.6115,"h":0.6185},
{"r":2,"c":5,"s":"G","x":225,"y":0.6148,"l":0.6116,"h":0.618},
{"r":2,"c":5,"s":"G","x":250,"y":0.6142,"l":0.6112,"h":0.6172},
{"r":2,"c":5,"s":"G","x":275,"y":0.6129,"l":0.6099,"h":0.6159},
{"r":2,"c":5,"s":"G","x":300,"y":0.6129,"l":0.6099,"h":0.6159},
{"r":2,"c":5,"s":"G","x":325,"y":0.6129,"l":0.6099,"h":0.6159},
{"r":2,"c":5,"s":"G","x":350,"y":0.6134,"l":0.6104,"h":0.6164},
{"r":2,"c":5,"s":"G","x":375,"y":0.6134,"l":0.6104,"h":0.6164},
{"r":2,"c":5,"s":"G","x":400,"y":0.6129,"l":0.6099,"h":0.6159},
{"r":2,"c":10,"s":"A","y":0.6796},{"r":2,"c":10,"s":"D","y":0.6741},
{"r":2,"c":10,"s":"B","x":25,"y":0.6387,"l":0.6267,"h":0.6518},
{"r":2,"c":10,"s":"B","x":50,"y":0.6401,"l":0.6276,"h":0.6532},
{"r":2,"c":10,"s":"B","x":75,"y":0.64,"l":0.6254,"h":0.6541},
{"r":2,"c":10,"s":"B","x":100,"y":0.6387,"l":0.6249,"h":0.6527},
{"r":2,"c":10,"s":"B","x":125,"y":0.641,"l":0.627,"h":0.6549},
{"r":2,"c":10,"s":"B","x":150,"y":0.6405,"l":0.6267,"h":0.6545},
{"r":2,"c":10,"s":"B","x":175,"y":0.6383,"l":0.6258,"h":0.6513},
{"r":2,"c":10,"s":"B","x":200,"y":0.641,"l":0.6267,"h":0.6554},
{"r":2,"c":10,"s":"B","x":225,"y":0.6312,"l":0.6123,"h":0.65},
{"r":2,"c":10,"s":"B","x":250,"y":0.6258,"l":0.606,"h":0.6464},
{"r":2,"c":10,"s":"B","x":375,"y":0.6163,"l":0.5989,"h":0.6342},
{"r":2,"c":10,"s":"B","x":400,"y":0.6163,"l":0.5989,"h":0.6342},
{"r":2,"c":10,"s":"R","x":25,"y":0.6123,"l":0.6087,"h":0.6168},
{"r":2,"c":10,"s":"R","x":50,"y":0.601,"l":0.598,"h":0.6039},
{"r":2,"c":10,"s":"R","x":75,"y":0.5944,"l":0.5908,"h":0.5971},
{"r":2,"c":10,"s":"R","x":100,"y":0.592,"l":0.5881,"h":0.5944},
{"r":2,"c":10,"s":"R","x":125,"y":0.5863,"l":0.5827,"h":0.589},
{"r":2,"c":10,"s":"R","x":150,"y":0.5836,"l":0.58,"h":0.5872},
{"r":2,"c":10,"s":"R","x":175,"y":0.583,"l":0.5795,"h":0.5859},
{"r":2,"c":10,"s":"R","x":200,"y":0.5818,"l":0.5782,"h":0.5845},
{"r":2,"c":10,"s":"R","x":225,"y":0.5782,"l":0.5752,"h":0.5809},
{"r":2,"c":10,"s":"R","x":250,"y":0.5787,"l":0.5752,"h":0.5812},
{"r":2,"c":10,"s":"R","x":275,"y":0.5786,"l":0.5746,"h":0.5809},
{"r":2,"c":10,"s":"R","x":300,"y":0.5764,"l":0.5728,"h":0.5791},
{"r":2,"c":10,"s":"R","x":325,"y":0.5761,"l":0.5719,"h":0.5787},
{"r":2,"c":10,"s":"R","x":350,"y":0.5773,"l":0.5728,"h":0.58},
{"r":2,"c":10,"s":"R","x":375,"y":0.5777,"l":0.5728,"h":0.58},
{"r":2,"c":10,"s":"R","x":400,"y":0.5773,"l":0.5719,"h":0.58},
{"r":2,"c":10,"s":"P","x":25,"y":0.6208,"l":0.6132,"h":0.633},
{"r":2,"c":10,"s":"P","x":50,"y":0.6078,"l":0.6024,"h":0.6123},
{"r":2,"c":10,"s":"P","x":75,"y":0.6028,"l":0.598,"h":0.6141},
{"r":2,"c":10,"s":"P","x":100,"y":0.5967,"l":0.5926,"h":0.6015},
{"r":2,"c":10,"s":"P","x":125,"y":0.5938,"l":0.5884,"h":0.601},
{"r":2,"c":10,"s":"P","x":150,"y":0.5956,"l":0.5913,"h":0.6006},
{"r":2,"c":10,"s":"P","x":175,"y":0.5962,"l":0.5917,"h":0.6006},
{"r":2,"c":10,"s":"P","x":200,"y":0.5965,"l":0.5908,"h":0.6015},
{"r":2,"c":10,"s":"P","x":225,"y":0.5967,"l":0.5908,"h":0.6024},
{"r":2,"c":10,"s":"P","x":250,"y":0.598,"l":0.5917,"h":0.6051},
{"r":2,"c":10,"s":"P","x":275,"y":0.5983,"l":0.5917,"h":0.6042},
{"r":2,"c":10,"s":"P","x":300,"y":0.5958,"l":0.589,"h":0.6024},
{"r":2,"c":10,"s":"P","x":325,"y":0.5944,"l":0.5872,"h":0.6015},
{"r":2,"c":10,"s":"P","x":350,"y":0.5899,"l":0.5795,"h":0.6015},
{"r":2,"c":10,"s":"P","x":375,"y":0.5938,"l":0.5854,"h":0.6042},
{"r":2,"c":10,"s":"P","x":400,"y":0.5908,"l":0.5836,"h":0.6024},
{"r":2,"c":10,"s":"G","x":25,"y":0.6136,"l":0.6096,"h":0.6176},
{"r":2,"c":10,"s":"G","x":50,"y":0.6024,"l":0.5989,"h":0.6059},
{"r":2,"c":10,"s":"G","x":75,"y":0.5965,"l":0.5937,"h":0.5993},
{"r":2,"c":10,"s":"G","x":100,"y":0.592,"l":0.5894,"h":0.5946},
{"r":2,"c":10,"s":"G","x":125,"y":0.5924,"l":0.5898,"h":0.595},
{"r":2,"c":10,"s":"G","x":150,"y":0.5886,"l":0.5861,"h":0.5911},
{"r":2,"c":10,"s":"G","x":175,"y":0.5899,"l":0.5874,"h":0.5924},
{"r":2,"c":10,"s":"G","x":200,"y":0.5884,"l":0.5859,"h":0.5909},
{"r":2,"c":10,"s":"G","x":225,"y":0.5863,"l":0.5838,"h":0.5888},
{"r":2,"c":10,"s":"G","x":250,"y":0.5854,"l":0.5829,"h":0.5879},
{"r":2,"c":10,"s":"G","x":275,"y":0.5841,"l":0.5816,"h":0.5866},
{"r":2,"c":10,"s":"G","x":300,"y":0.5836,"l":0.5811,"h":0.5861},
{"r":2,"c":10,"s":"G","x":325,"y":0.5823,"l":0.5798,"h":0.5848},
{"r":2,"c":10,"s":"G","x":350,"y":0.5823,"l":0.5798,"h":0.5848},
{"r":2,"c":10,"s":"G","x":375,"y":0.583,"l":0.5805,"h":0.5855},
{"r":2,"c":10,"s":"G","x":400,"y":0.5814,"l":0.5789,"h":0.5839},
{"r":2,"c":30,"s":"A","y":0.63},{"r":2,"c":30,"s":"D","y":0.6463},
{"r":2,"c":30,"s":"B","x":25,"y":0.6224,"l":0.6104,"h":0.6358},
{"r":2,"c":30,"s":"B","x":50,"y":0.6228,"l":0.6109,"h":0.6351},
{"r":2,"c":30,"s":"B","x":75,"y":0.6236,"l":0.6116,"h":0.6355},
{"r":2,"c":30,"s":"B","x":100,"y":0.6224,"l":0.6109,"h":0.6343},
{"r":2,"c":30,"s":"B","x":125,"y":0.6266,"l":0.6124,"h":0.6403},
{"r":2,"c":30,"s":"B","x":150,"y":0.6261,"l":0.6124,"h":0.6393},
{"r":2,"c":30,"s":"B","x":175,"y":0.6243,"l":0.6112,"h":0.6375},
{"r":2,"c":30,"s":"B","x":200,"y":0.6276,"l":0.6116,"h":0.643},
{"r":2,"c":30,"s":"B","x":225,"y":0.6199,"l":0.6004,"h":0.6385},
{"r":2,"c":30,"s":"B","x":250,"y":0.6151,"l":0.594,"h":0.6358},
{"r":2,"c":30,"s":"B","x":375,"y":0.6046,"l":0.587,"h":0.6224},
{"r":2,"c":30,"s":"B","x":400,"y":0.6046,"l":0.587,"h":0.6224},
{"r":2,"c":30,"s":"R","x":25,"y":0.6131,"l":0.6101,"h":0.6161},
{"r":2,"c":30,"s":"R","x":50,"y":0.5967,"l":0.594,"h":0.5997},
{"r":2,"c":30,"s":"R","x":75,"y":0.5833,"l":0.5808,"h":0.5858},
{"r":2,"c":30,"s":"R","x":100,"y":0.5766,"l":0.5744,"h":0.5788},
{"r":2,"c":30,"s":"R","x":125,"y":0.5716,"l":0.5696,"h":0.5736},
{"r":2,"c":30,"s":"R","x":150,"y":0.5681,"l":0.5661,"h":0.5701},
{"r":2,"c":30,"s":"R","x":175,"y":0.5661,"l":0.5641,"h":0.5681},
{"r":2,"c":30,"s":"R","x":200,"y":0.5636,"l":0.5616,"h":0.5656},
{"r":2,"c":30,"s":"R","x":225,"y":0.5634,"l":0.5614,"h":0.5654},
{"r":2,"c":30,"s":"R","x":250,"y":0.5597,"l":0.5577,"h":0.5617},
{"r":2,"c":30,"s":"R","x":275,"y":0.5597,"l":0.5577,"h":0.5617},
{"r":2,"c":30,"s":"R","x":300,"y":0.5594,"l":0.5574,"h":0.5614},
{"r":2,"c":30,"s":"R","x":325,"y":0.5579,"l":0.5559,"h":0.5599},
{"r":2,"c":30,"s":"R","x":350,"y":0.5576,"l":0.5556,"h":0.5596},
{"r":2,"c":30,"s":"R","x":375,"y":0.5564,"l":0.5544,"h":0.5584},
{"r":2,"c":30,"s":"R","x":400,"y":0.5557,"l":0.5537,"h":0.5577},
{"r":2,"c":30,"s":"P","x":25,"y":0.6199,"l":0.6146,"h":0.6273},
{"r":2,"c":30,"s":"P","x":50,"y":0.5982,"l":0.5952,"h":0.6027},
{"r":2,"c":30,"s":"P","x":75,"y":0.5888,"l":0.5855,"h":0.5945},
{"r":2,"c":30,"s":"P","x":100,"y":0.584,"l":0.5806,"h":0.59},
{"r":2,"c":30,"s":"P","x":125,"y":0.5818,"l":0.5781,"h":0.5863},
{"r":2,"c":30,"s":"P","x":150,"y":0.5803,"l":0.5758,"h":0.586},
{"r":2,"c":30,"s":"P","x":175,"y":0.5791,"l":0.5736,"h":0.5863},
{"r":2,"c":30,"s":"P","x":200,"y":0.5796,"l":0.5721,"h":0.5878},
{"r":2,"c":30,"s":"P","x":225,"y":0.5796,"l":0.5713,"h":0.5885},
{"r":2,"c":30,"s":"P","x":250,"y":0.5788,"l":0.5706,"h":0.5863},
{"r":2,"c":30,"s":"P","x":275,"y":0.5781,"l":0.5701,"h":0.5855},
{"r":2,"c":30,"s":"P","x":300,"y":0.5773,"l":0.5699,"h":0.5848},
{"r":2,"c":30,"s":"P","x":325,"y":0.5766,"l":0.5692,"h":0.5845},
{"r":2,"c":30,"s":"P","x":350,"y":0.5758,"l":0.5684,"h":0.5845},
{"r":2,"c":30,"s":"P","x":375,"y":0.5751,"l":0.5672,"h":0.584},
{"r":2,"c":30,"s":"P","x":400,"y":0.5743,"l":0.5661,"h":0.584},
{"r":2,"c":30,"s":"G","x":25,"y":0.6161,"l":0.6131,"h":0.6191},
{"r":2,"c":30,"s":"G","x":50,"y":0.5937,"l":0.5912,"h":0.5962},
{"r":2,"c":30,"s":"G","x":75,"y":0.586,"l":0.584,"h":0.588},
{"r":2,"c":30,"s":"G","x":100,"y":0.58,"l":0.5783,"h":0.5817},
{"r":2,"c":30,"s":"G","x":125,"y":0.5761,"l":0.5745,"h":0.5777},
{"r":2,"c":30,"s":"G","x":150,"y":0.5731,"l":0.5716,"h":0.5746},
{"r":2,"c":30,"s":"G","x":175,"y":0.571,"l":0.5695,"h":0.5725},
{"r":2,"c":30,"s":"G","x":200,"y":0.5701,"l":0.5686,"h":0.5716},
{"r":2,"c":30,"s":"G","x":225,"y":0.5694,"l":0.5679,"h":0.5709},
{"r":2,"c":30,"s":"G","x":250,"y":0.5688,"l":0.5673,"h":0.5703},
{"r":2,"c":30,"s":"G","x":275,"y":0.5684,"l":0.5669,"h":0.5699},
{"r":2,"c":30,"s":"G","x":300,"y":0.5679,"l":0.5664,"h":0.5694},
{"r":2,"c":30,"s":"G","x":325,"y":0.5672,"l":0.5657,"h":0.5687},
{"r":2,"c":30,"s":"G","x":350,"y":0.5664,"l":0.5649,"h":0.5679},
{"r":2,"c":30,"s":"G","x":375,"y":0.5669,"l":0.5654,"h":0.5684},
{"r":2,"c":30,"s":"G","x":400,"y":0.5664,"l":0.5649,"h":0.5679},
{"r":3,"c":5,"s":"A","y":0.9814},{"r":3,"c":5,"s":"D","y":0.9308},
{"r":3,"c":5,"s":"B","x":25,"y":0.8295,"l":0.8098,"h":0.8504},
{"r":3,"c":5,"s":"B","x":50,"y":0.8303,"l":0.8065,"h":0.8559},
{"r":3,"c":5,"s":"B","x":75,"y":0.8262,"l":0.8044,"h":0.8525},
{"r":3,"c":5,"s":"B","x":100,"y":0.8211,"l":0.8044,"h":0.8408},
{"r":3,"c":5,"s":"B","x":125,"y":0.8262,"l":0.8065,"h":0.8441},
{"r":3,"c":5,"s":"B","x":150,"y":0.8262,"l":0.8065,"h":0.8441},
{"r":3,"c":5,"s":"B","x":175,"y":0.8262,"l":0.8065,"h":0.8441},
{"r":3,"c":5,"s":"B","x":200,"y":0.8274,"l":0.8065,"h":0.8462},
{"r":3,"c":5,"s":"B","x":225,"y":0.8128,"l":0.7897,"h":0.8379},
{"r":3,"c":5,"s":"B","x":250,"y":0.8073,"l":0.7813,"h":0.8337},
{"r":3,"c":5,"s":"B","x":375,"y":0.8023,"l":0.7772,"h":0.8295},
{"r":3,"c":5,"s":"B","x":400,"y":0.8023,"l":0.7772,"h":0.8295},
{"r":3,"c":5,"s":"R","x":25,"y":0.7981,"l":0.7921,"h":0.8031},
{"r":3,"c":5,"s":"R","x":50,"y":0.7835,"l":0.7775,"h":0.7885},
{"r":3,"c":5,"s":"R","x":75,"y":0.7722,"l":0.7662,"h":0.7772},
{"r":3,"c":5,"s":"R","x":100,"y":0.7655,"l":0.7595,"h":0.7705},
{"r":3,"c":5,"s":"R","x":125,"y":0.7605,"l":0.7545,"h":0.7655},
{"r":3,"c":5,"s":"R","x":150,"y":0.7571,"l":0.7511,"h":0.7621},
{"r":3,"c":5,"s":"R","x":175,"y":0.7554,"l":0.7494,"h":0.7604},
{"r":3,"c":5,"s":"R","x":200,"y":0.7529,"l":0.7469,"h":0.7579},
{"r":3,"c":5,"s":"R","x":225,"y":0.75,"l":0.744,"h":0.755},
{"r":3,"c":5,"s":"R","x":250,"y":0.7479,"l":0.7419,"h":0.7529},
{"r":3,"c":5,"s":"R","x":275,"y":0.7437,"l":0.7377,"h":0.7487},
{"r":3,"c":5,"s":"R","x":300,"y":0.7429,"l":0.7369,"h":0.7479},
{"r":3,"c":5,"s":"R","x":325,"y":0.7429,"l":0.7369,"h":0.7479},
{"r":3,"c":5,"s":"R","x":350,"y":0.7416,"l":0.7356,"h":0.7466},
{"r":3,"c":5,"s":"R","x":375,"y":0.7404,"l":0.7344,"h":0.7454},
{"r":3,"c":5,"s":"R","x":400,"y":0.7383,"l":0.7323,"h":0.7433},
{"r":3,"c":5,"s":"P","x":25,"y":0.8169,"l":0.8044,"h":0.8358},
{"r":3,"c":5,"s":"P","x":50,"y":0.7939,"l":0.7877,"h":0.8002},
{"r":3,"c":5,"s":"P","x":75,"y":0.7856,"l":0.7793,"h":0.7918},
{"r":3,"c":5,"s":"P","x":100,"y":0.7793,"l":0.773,"h":0.7856},
{"r":3,"c":5,"s":"P","x":125,"y":0.7793,"l":0.773,"h":0.7856},
{"r":3,"c":5,"s":"P","x":150,"y":0.7785,"l":0.7722,"h":0.7848},
{"r":3,"c":5,"s":"P","x":175,"y":0.7785,"l":0.7722,"h":0.7848},
{"r":3,"c":5,"s":"P","x":200,"y":0.778,"l":0.7709,"h":0.7848},
{"r":3,"c":5,"s":"P","x":225,"y":0.7793,"l":0.7722,"h":0.7856},
{"r":3,"c":5,"s":"P","x":250,"y":0.7801,"l":0.7738,"h":0.7877},
{"r":3,"c":5,"s":"P","x":275,"y":0.7826,"l":0.7763,"h":0.7897},
{"r":3,"c":5,"s":"P","x":300,"y":0.7822,"l":0.7751,"h":0.7897},
{"r":3,"c":5,"s":"P","x":325,"y":0.7814,"l":0.7738,"h":0.7889},
{"r":3,"c":5,"s":"P","x":350,"y":0.7805,"l":0.7738,"h":0.7877},
{"r":3,"c":5,"s":"P","x":375,"y":0.7785,"l":0.7722,"h":0.7856},
{"r":3,"c":5,"s":"P","x":400,"y":0.778,"l":0.7709,"h":0.7848},
{"r":3,"c":5,"s":"G","x":25,"y":0.8086,"l":0.8046,"h":0.8126},
{"r":3,"c":5,"s":"G","x":50,"y":0.7897,"l":0.7857,"h":0.7937},
{"r":3,"c":5,"s":"G","x":75,"y":0.7772,"l":0.7732,"h":0.7812},
{"r":3,"c":5,"s":"G","x":100,"y":0.7738,"l":0.7698,"h":0.7778},
{"r":3,"c":5,"s":"G","x":125,"y":0.7709,"l":0.7669,"h":0.7749},
{"r":3,"c":5,"s":"G","x":150,"y":0.7667,"l":0.7627,"h":0.7707},
{"r":3,"c":5,"s":"G","x":175,"y":0.7659,"l":0.7619,"h":0.7699},
{"r":3,"c":5,"s":"G","x":200,"y":0.7655,"l":0.7615,"h":0.7695},
{"r":3,"c":5,"s":"G","x":225,"y":0.7605,"l":0.7565,"h":0.7645},
{"r":3,"c":5,"s":"G","x":250,"y":0.7584,"l":0.7544,"h":0.7624},
{"r":3,"c":5,"s":"G","x":275,"y":0.7575,"l":0.7535,"h":0.7615},
{"r":3,"c":5,"s":"G","x":300,"y":0.7554,"l":0.7514,"h":0.7594},
{"r":3,"c":5,"s":"G","x":325,"y":0.7533,"l":0.7493,"h":0.7573},
{"r":3,"c":5,"s":"G","x":350,"y":0.7521,"l":0.7481,"h":0.7561},
{"r":3,"c":5,"s":"G","x":375,"y":0.7508,"l":0.7468,"h":0.7548},
{"r":3,"c":5,"s":"G","x":400,"y":0.75,"l":0.746,"h":0.754},
{"r":3,"c":10,"s":"A","y":0.8883},{"r":3,"c":10,"s":"D","y":0.8765},
{"r":3,"c":10,"s":"B","x":25,"y":0.798,"l":0.7815,"h":0.8136},
{"r":3,"c":10,"s":"B","x":50,"y":0.8008,"l":0.78,"h":0.8204},
{"r":3,"c":10,"s":"B","x":75,"y":0.7986,"l":0.7784,"h":0.8204},
{"r":3,"c":10,"s":"B","x":100,"y":0.7949,"l":0.7784,"h":0.8127},
{"r":3,"c":10,"s":"B","x":125,"y":0.8027,"l":0.7846,"h":0.8198},
{"r":3,"c":10,"s":"B","x":150,"y":0.8027,"l":0.7856,"h":0.8204},
{"r":3,"c":10,"s":"B","x":175,"y":0.8033,"l":0.7862,"h":0.8211},
{"r":3,"c":10,"s":"B","x":200,"y":0.8055,"l":0.7862,"h":0.8251},
{"r":3,"c":10,"s":"B","x":225,"y":0.794,"l":0.7722,"h":0.8189},
{"r":3,"c":10,"s":"B","x":250,"y":0.7878,"l":0.7619,"h":0.8142},
{"r":3,"c":10,"s":"B","x":375,"y":0.7822,"l":0.7582,"h":0.8095},
{"r":3,"c":10,"s":"B","x":400,"y":0.7822,"l":0.7582,"h":0.8095},
{"r":3,"c":10,"s":"R","x":25,"y":0.7706,"l":0.7656,"h":0.7756},
{"r":3,"c":10,"s":"R","x":50,"y":0.7557,"l":0.7517,"h":0.7597},
{"r":3,"c":10,"s":"R","x":75,"y":0.7442,"l":0.7402,"h":0.7482},
{"r":3,"c":10,"s":"R","x":100,"y":0.7358,"l":0.7318,"h":0.7398},
{"r":3,"c":10,"s":"R","x":125,"y":0.7308,"l":0.7268,"h":0.7348},
{"r":3,"c":10,"s":"R","x":150,"y":0.7264,"l":0.7224,"h":0.7304},
{"r":3,"c":10,"s":"R","x":175,"y":0.7233,"l":0.7193,"h":0.7273},
{"r":3,"c":10,"s":"R","x":200,"y":0.7183,"l":0.7143,"h":0.7223},
{"r":3,"c":10,"s":"R","x":225,"y":0.7137,"l":0.7097,"h":0.7177},
{"r":3,"c":10,"s":"R","x":250,"y":0.7115,"l":0.7075,"h":0.7155},
{"r":3,"c":10,"s":"R","x":275,"y":0.7115,"l":0.7075,"h":0.7155},
{"r":3,"c":10,"s":"R","x":300,"y":0.7109,"l":0.7069,"h":0.7149},
{"r":3,"c":10,"s":"R","x":325,"y":0.7099,"l":0.7059,"h":0.7139},
{"r":3,"c":10,"s":"R","x":350,"y":0.709,"l":0.705,"h":0.713},
{"r":3,"c":10,"s":"R","x":375,"y":0.7099,"l":0.7059,"h":0.7139},
{"r":3,"c":10,"s":"R","x":400,"y":0.7068,"l":0.7028,"h":0.7108},
{"r":3,"c":10,"s":"P","x":25,"y":0.7831,"l":0.7597,"h":0.7955},
{"r":3,"c":10,"s":"P","x":50,"y":0.7638,"l":0.7566,"h":0.7706},
{"r":3,"c":10,"s":"P","x":75,"y":0.7582,"l":0.7504,"h":0.7706},
{"r":3,"c":10,"s":"P","x":100,"y":0.7526,"l":0.7457,"h":0.7582},
{"r":3,"c":10,"s":"P","x":125,"y":0.7504,"l":0.7442,"h":0.7535},
{"r":3,"c":10,"s":"P","x":150,"y":0.7504,"l":0.7442,"h":0.7566},
{"r":3,"c":10,"s":"P","x":175,"y":0.7467,"l":0.7411,"h":0.7513},
{"r":3,"c":10,"s":"P","x":200,"y":0.7451,"l":0.7395,"h":0.7513},
{"r":3,"c":10,"s":"P","x":225,"y":0.7473,"l":0.7395,"h":0.7551},
{"r":3,"c":10,"s":"P","x":250,"y":0.7473,"l":0.7395,"h":0.7551},
{"r":3,"c":10,"s":"P","x":275,"y":0.7467,"l":0.7389,"h":0.7551},
{"r":3,"c":10,"s":"P","x":300,"y":0.7473,"l":0.7395,"h":0.7551},
{"r":3,"c":10,"s":"P","x":325,"y":0.7464,"l":0.7364,"h":0.7551},
{"r":3,"c":10,"s":"P","x":350,"y":0.7442,"l":0.7302,"h":0.7535},
{"r":3,"c":10,"s":"P","x":375,"y":0.7467,"l":0.7371,"h":0.7566},
{"r":3,"c":10,"s":"P","x":400,"y":0.7442,"l":0.7333,"h":0.7551},
{"r":3,"c":10,"s":"G","x":25,"y":0.7793,"l":0.7753,"h":0.7833},
{"r":3,"c":10,"s":"G","x":50,"y":0.7644,"l":0.7604,"h":0.7684},
{"r":3,"c":10,"s":"G","x":75,"y":0.7513,"l":0.7473,"h":0.7553},
{"r":3,"c":10,"s":"G","x":100,"y":0.7426,"l":0.7386,"h":0.7466},
{"r":3,"c":10,"s":"G","x":125,"y":0.7401,"l":0.7361,"h":0.7441},
{"r":3,"c":10,"s":"G","x":150,"y":0.7364,"l":0.7324,"h":0.7404},
{"r":3,"c":10,"s":"G","x":175,"y":0.7358,"l":0.7318,"h":0.7398},
{"r":3,"c":10,"s":"G","x":200,"y":0.7358,"l":0.7318,"h":0.7398},
{"r":3,"c":10,"s":"G","x":225,"y":0.7339,"l":0.7299,"h":0.7379},
{"r":3,"c":10,"s":"G","x":250,"y":0.7308,"l":0.7268,"h":0.7348},
{"r":3,"c":10,"s":"G","x":275,"y":0.7308,"l":0.7268,"h":0.7348},
{"r":3,"c":10,"s":"G","x":300,"y":0.7286,"l":0.7246,"h":0.7326},
{"r":3,"c":10,"s":"G","x":325,"y":0.7249,"l":0.7209,"h":0.7289},
{"r":3,"c":10,"s":"G","x":350,"y":0.724,"l":0.72,"h":0.728},
{"r":3,"c":10,"s":"G","x":375,"y":0.7218,"l":0.7178,"h":0.7258},
{"r":3,"c":10,"s":"G","x":400,"y":0.7215,"l":0.7175,"h":0.7255},
{"r":3,"c":30,"s":"A","y":0.8243},{"r":3,"c":30,"s":"D","y":0.8378},
{"r":3,"c":30,"s":"B","x":25,"y":0.7789,"l":0.7627,"h":0.795},
{"r":3,"c":30,"s":"B","x":50,"y":0.7807,"l":0.7607,"h":0.7982},
{"r":3,"c":30,"s":"B","x":75,"y":0.7794,"l":0.7607,"h":0.7982},
{"r":3,"c":30,"s":"B","x":100,"y":0.7762,"l":0.7619,"h":0.7907},
{"r":3,"c":30,"s":"B","x":125,"y":0.7857,"l":0.7682,"h":0.8028},
{"r":3,"c":30,"s":"B","x":150,"y":0.785,"l":0.7669,"h":0.802},
{"r":3,"c":30,"s":"B","x":175,"y":0.7845,"l":0.7669,"h":0.802},
{"r":3,"c":30,"s":"B","x":200,"y":0.7887,"l":0.7682,"h":0.8103},
{"r":3,"c":30,"s":"B","x":225,"y":0.7799,"l":0.7556,"h":0.8045},
{"r":3,"c":30,"s":"B","x":250,"y":0.7749,"l":0.7481,"h":0.8013},
{"r":3,"c":30,"s":"B","x":375,"y":0.7699,"l":0.7431,"h":0.797},
{"r":3,"c":30,"s":"B","x":400,"y":0.7699,"l":0.7431,"h":0.797},
{"r":3,"c":30,"s":"R","x":25,"y":0.782,"l":0.778,"h":0.786},
{"r":3,"c":30,"s":"R","x":50,"y":0.7531,"l":0.7491,"h":0.7571},
{"r":3,"c":30,"s":"R","x":75,"y":0.7361,"l":0.7321,"h":0.7401},
{"r":3,"c":30,"s":"R","x":100,"y":0.7268,"l":0.7228,"h":0.7308},
{"r":3,"c":30,"s":"R","x":125,"y":0.7193,"l":0.7153,"h":0.7233},
{"r":3,"c":30,"s":"R","x":150,"y":0.7135,"l":0.7095,"h":0.7175},
{"r":3,"c":30,"s":"R","x":175,"y":0.7105,"l":0.7065,"h":0.7145},
{"r":3,"c":30,"s":"R","x":200,"y":0.7068,"l":0.7028,"h":0.7108},
{"r":3,"c":30,"s":"R","x":225,"y":0.703,"l":0.699,"h":0.707},
{"r":3,"c":30,"s":"R","x":250,"y":0.7,"l":0.696,"h":0.704},
{"r":3,"c":30,"s":"R","x":275,"y":0.6985,"l":0.6945,"h":0.7025},
{"r":3,"c":30,"s":"R","x":300,"y":0.6955,"l":0.6915,"h":0.6995},
{"r":3,"c":30,"s":"R","x":325,"y":0.695,"l":0.691,"h":0.699},
{"r":3,"c":30,"s":"R","x":350,"y":0.6942,"l":0.6902,"h":0.6982},
{"r":3,"c":30,"s":"R","x":375,"y":0.6935,"l":0.6895,"h":0.6975},
{"r":3,"c":30,"s":"R","x":400,"y":0.6917,"l":0.6877,"h":0.6957},
{"r":3,"c":30,"s":"P","x":25,"y":0.7987,"l":0.7832,"h":0.8183},
{"r":3,"c":30,"s":"P","x":50,"y":0.7602,"l":0.7531,"h":0.7682},
{"r":3,"c":30,"s":"P","x":75,"y":0.7481,"l":0.7419,"h":0.7556},
{"r":3,"c":30,"s":"P","x":100,"y":0.7419,"l":0.7356,"h":0.7481},
{"r":3,"c":30,"s":"P","x":125,"y":0.7376,"l":0.7306,"h":0.7451},
{"r":3,"c":30,"s":"P","x":150,"y":0.7348,"l":0.7276,"h":0.7436},
{"r":3,"c":30,"s":"P","x":175,"y":0.7343,"l":0.7261,"h":0.7436},
{"r":3,"c":30,"s":"P","x":200,"y":0.7343,"l":0.7251,"h":0.7444},
{"r":3,"c":30,"s":"P","x":225,"y":0.7343,"l":0.7243,"h":0.7451},
{"r":3,"c":30,"s":"P","x":250,"y":0.7348,"l":0.7243,"h":0.7451},
{"r":3,"c":30,"s":"P","x":275,"y":0.7336,"l":0.7231,"h":0.7444},
{"r":3,"c":30,"s":"P","x":300,"y":0.7331,"l":0.7206,"h":0.7436},
{"r":3,"c":30,"s":"P","x":325,"y":0.7306,"l":0.7168,"h":0.7431},
{"r":3,"c":30,"s":"P","x":350,"y":0.7281,"l":0.713,"h":0.7431},
{"r":3,"c":30,"s":"P","x":375,"y":0.7281,"l":0.7118,"h":0.7431},
{"r":3,"c":30,"s":"P","x":400,"y":0.7268,"l":0.7105,"h":0.7419},
{"r":3,"c":30,"s":"G","x":25,"y":0.797,"l":0.788,"h":0.806},
{"r":3,"c":30,"s":"G","x":50,"y":0.7594,"l":0.7564,"h":0.7624},
{"r":3,"c":30,"s":"G","x":75,"y":0.7451,"l":0.7421,"h":0.7481},
{"r":3,"c":30,"s":"G","x":100,"y":0.7351,"l":0.7321,"h":0.7381},
{"r":3,"c":30,"s":"G","x":125,"y":0.7293,"l":0.7263,"h":0.7323},
{"r":3,"c":30,"s":"G","x":150,"y":0.7256,"l":0.7226,"h":0.7286},
{"r":3,"c":30,"s":"G","x":175,"y":0.7218,"l":0.7188,"h":0.7248},
{"r":3,"c":30,"s":"G","x":200,"y":0.7188,"l":0.7158,"h":0.7218},
{"r":3,"c":30,"s":"G","x":225,"y":0.7155,"l":0.7125,"h":0.7185},
{"r":3,"c":30,"s":"G","x":250,"y":0.7118,"l":0.7088,"h":0.7148},
{"r":3,"c":30,"s":"G","x":275,"y":0.71,"l":0.707,"h":0.713},
{"r":3,"c":30,"s":"G","x":300,"y":0.7085,"l":0.7055,"h":0.7115},
{"r":3,"c":30,"s":"G","x":325,"y":0.7073,"l":0.7043,"h":0.7103},
{"r":3,"c":30,"s":"G","x":350,"y":0.7068,"l":0.7038,"h":0.7098},
{"r":3,"c":30,"s":"G","x":375,"y":0.706,"l":0.703,"h":0.709},
{"r":3,"c":30,"s":"G","x":400,"y":0.7055,"l":0.7025,"h":0.7085},
{"r":4,"c":5,"s":"A","y":1.3058},{"r":4,"c":5,"s":"D","y":1.224},
{"r":4,"c":5,"s":"B","x":25,"y":1.0682,"l":1.0437,"h":1.0856},
{"r":4,"c":5,"s":"B","x":50,"y":1.0618,"l":1.0373,"h":1.0901},
{"r":4,"c":5,"s":"B","x":75,"y":1.063,"l":1.0373,"h":1.092},
{"r":4,"c":5,"s":"B","x":100,"y":1.063,"l":1.0373,"h":1.0888},
{"r":4,"c":5,"s":"B","x":125,"y":1.0727,"l":1.0514,"h":1.0952},
{"r":4,"c":5,"s":"B","x":150,"y":1.0721,"l":1.0514,"h":1.0952},
{"r":4,"c":5,"s":"B","x":175,"y":1.0727,"l":1.0514,"h":1.094},
{"r":4,"c":5,"s":"B","x":200,"y":1.0759,"l":1.0534,"h":1.0985},
{"r":4,"c":5,"s":"B","x":225,"y":1.0585,"l":1.0308,"h":1.0888},
{"r":4,"c":5,"s":"B","x":250,"y":1.0437,"l":1.0147,"h":1.0759},
{"r":4,"c":5,"s":"B","x":300,"y":1.0457,"l":1.018,"h":1.0759},
{"r":4,"c":5,"s":"B","x":325,"y":1.0392,"l":1.0147,"h":1.063},
{"r":4,"c":5,"s":"B","x":375,"y":1.0276,"l":1.0051,"h":1.0502},
{"r":4,"c":5,"s":"B","x":400,"y":1.0276,"l":1.0051,"h":1.0502},
{"r":4,"c":5,"s":"R","x":25,"y":1.0296,"l":1.02,"h":1.0405},
{"r":4,"c":5,"s":"R","x":50,"y":1.018,"l":1.008,"h":1.029},
{"r":4,"c":5,"s":"R","x":75,"y":1.0019,"l":0.9922,"h":1.0115},
{"r":4,"c":5,"s":"R","x":100,"y":0.9909,"l":0.981,"h":1.001},
{"r":4,"c":5,"s":"R","x":125,"y":0.9845,"l":0.9735,"h":0.995},
{"r":4,"c":5,"s":"R","x":150,"y":0.9826,"l":0.971,"h":0.9935},
{"r":4,"c":5,"s":"R","x":175,"y":0.978,"l":0.966,"h":0.989},
{"r":4,"c":5,"s":"R","x":200,"y":0.9729,"l":0.96,"h":0.9845},
{"r":4,"c":5,"s":"R","x":225,"y":0.9677,"l":0.954,"h":0.98},
{"r":4,"c":5,"s":"R","x":250,"y":0.9568,"l":0.9407,"h":0.9729},
{"r":4,"c":5,"s":"R","x":275,"y":0.9561,"l":0.939,"h":0.972},
{"r":4,"c":5,"s":"R","x":300,"y":0.9549,"l":0.937,"h":0.971},
{"r":4,"c":5,"s":"R","x":325,"y":0.9523,"l":0.934,"h":0.969},
{"r":4,"c":5,"s":"R","x":350,"y":0.9523,"l":0.933,"h":0.968},
{"r":4,"c":5,"s":"R","x":375,"y":0.9471,"l":0.926,"h":0.965},
{"r":4,"c":5,"s":"R","x":400,"y":0.9439,"l":0.9214,"h":0.9632},
{"r":4,"c":5,"s":"P","x":25,"y":1.0502,"l":1.04,"h":1.065},
{"r":4,"c":5,"s":"P","x":50,"y":1.0212,"l":1.012,"h":1.03},
{"r":4,"c":5,"s":"P","x":75,"y":1.0167,"l":1.008,"h":1.025},
{"r":4,"c":5,"s":"P","x":100,"y":1.0102,"l":1.001,"h":1.019},
{"r":4,"c":5,"s":"P","x":125,"y":1.0019,"l":0.993,"h":1.01},
{"r":4,"c":5,"s":"P","x":150,"y":1.0006,"l":0.992,"h":1.0085},
{"r":4,"c":5,"s":"P","x":175,"y":0.9967,"l":0.988,"h":1.0045},
{"r":4,"c":5,"s":"P","x":200,"y":0.9935,"l":0.985,"h":1.0015},
{"r":4,"c":5,"s":"P","x":225,"y":0.9967,"l":0.988,"h":1.0045},
{"r":4,"c":5,"s":"P","x":250,"y":0.9967,"l":0.988,"h":1.0045},
{"r":4,"c":5,"s":"P","x":275,"y":0.9967,"l":0.988,"h":1.0045},
{"r":4,"c":5,"s":"P","x":300,"y":0.9967,"l":0.988,"h":1.0045},
{"r":4,"c":5,"s":"P","x":325,"y":0.9954,"l":0.9865,"h":1.004},
{"r":4,"c":5,"s":"P","x":350,"y":0.9922,"l":0.983,"h":1.003},
{"r":4,"c":5,"s":"P","x":375,"y":0.9986,"l":0.981,"h":1.014},
{"r":4,"c":5,"s":"P","x":400,"y":0.9954,"l":0.976,"h":1.018},
{"r":4,"c":5,"s":"G","x":25,"y":1.045,"l":1.037,"h":1.053},
{"r":4,"c":5,"s":"G","x":50,"y":1.0212,"l":1.0132,"h":1.0292},
{"r":4,"c":5,"s":"G","x":75,"y":1.0083,"l":1.0003,"h":1.0163},
{"r":4,"c":5,"s":"G","x":100,"y":0.9974,"l":0.9894,"h":1.0054},
{"r":4,"c":5,"s":"G","x":125,"y":0.9922,"l":0.9842,"h":1.0002},
{"r":4,"c":5,"s":"G","x":150,"y":0.9871,"l":0.9791,"h":0.9951},
{"r":4,"c":5,"s":"G","x":175,"y":0.9826,"l":0.9746,"h":0.9906},
{"r":4,"c":5,"s":"G","x":200,"y":0.9826,"l":0.9746,"h":0.9906},
{"r":4,"c":5,"s":"G","x":225,"y":0.9793,"l":0.9713,"h":0.9873},
{"r":4,"c":5,"s":"G","x":250,"y":0.9742,"l":0.9662,"h":0.9822},
{"r":4,"c":5,"s":"G","x":275,"y":0.9729,"l":0.9649,"h":0.9809},
{"r":4,"c":5,"s":"G","x":300,"y":0.9716,"l":0.9636,"h":0.9796},
{"r":4,"c":5,"s":"G","x":325,"y":0.9697,"l":0.9617,"h":0.9777},
{"r":4,"c":5,"s":"G","x":350,"y":0.9684,"l":0.9604,"h":0.9764},
{"r":4,"c":5,"s":"G","x":375,"y":0.9684,"l":0.9604,"h":0.9764},
{"r":4,"c":5,"s":"G","x":400,"y":0.9652,"l":0.9572,"h":0.9732},
{"r":4,"c":10,"s":"A","y":1.1606},{"r":4,"c":10,"s":"D","y":1.1416},
{"r":4,"c":10,"s":"B","x":25,"y":1.0254,"l":1.0059,"h":1.0432},
{"r":4,"c":10,"s":"B","x":50,"y":1.0201,"l":1.0023,"h":1.0454},
{"r":4,"c":10,"s":"B","x":75,"y":1.0268,"l":1.0023,"h":1.048},
{"r":4,"c":10,"s":"B","x":100,"y":1.0268,"l":1.0068,"h":1.048},
{"r":4,"c":10,"s":"B","x":125,"y":1.0392,"l":1.0148,"h":1.0618},
{"r":4,"c":10,"s":"B","x":150,"y":1.0401,"l":1.0166,"h":1.0618},
{"r":4,"c":10,"s":"B","x":175,"y":1.0401,"l":1.0166,"h":1.0618},
{"r":4,"c":10,"s":"B","x":200,"y":1.0436,"l":1.021,"h":1.0618},
{"r":4,"c":10,"s":"B","x":225,"y":1.0343,"l":1.0068,"h":1.0618},
{"r":4,"c":10,"s":"B","x":250,"y":1.0166,"l":0.9882,"h":1.0445},
{"r":4,"c":10,"s":"B","x":300,"y":1.0192,"l":0.9909,"h":1.0445},
{"r":4,"c":10,"s":"B","x":325,"y":1.0121,"l":0.99,"h":1.0334},
{"r":4,"c":10,"s":"B","x":375,"y":1.0015,"l":0.982,"h":1.0215},
{"r":4,"c":10,"s":"B","x":400,"y":1.0015,"l":0.982,"h":1.0215},
{"r":4,"c":10,"s":"R","x":25,"y":1.0002,"l":0.9902,"h":1.0082},
{"r":4,"c":10,"s":"R","x":50,"y":0.9847,"l":0.9747,"h":0.9927},
{"r":4,"c":10,"s":"R","x":75,"y":0.9692,"l":0.9592,"h":0.9772},
{"r":4,"c":10,"s":"R","x":100,"y":0.9581,"l":0.9481,"h":0.9661},
{"r":4,"c":10,"s":"R","x":125,"y":0.9412,"l":0.9312,"h":0.9492},
{"r":4,"c":10,"s":"R","x":150,"y":0.9359,"l":0.9259,"h":0.9439},
{"r":4,"c":10,"s":"R","x":175,"y":0.9315,"l":0.9215,"h":0.9395},
{"r":4,"c":10,"s":"R","x":200,"y":0.9293,"l":0.9193,"h":0.9373},
{"r":4,"c":10,"s":"R","x":225,"y":0.9257,"l":0.9157,"h":0.9337},
{"r":4,"c":10,"s":"R","x":250,"y":0.9226,"l":0.9126,"h":0.9306},
{"r":4,"c":10,"s":"R","x":275,"y":0.9173,"l":0.9073,"h":0.9253},
{"r":4,"c":10,"s":"R","x":300,"y":0.9137,"l":0.9037,"h":0.9217},
{"r":4,"c":10,"s":"R","x":325,"y":0.9102,"l":0.9002,"h":0.9182},
{"r":4,"c":10,"s":"R","x":350,"y":0.9102,"l":0.9002,"h":0.9182},
{"r":4,"c":10,"s":"R","x":375,"y":0.9102,"l":0.9002,"h":0.9182},
{"r":4,"c":10,"s":"R","x":400,"y":0.908,"l":0.898,"h":0.916},
{"r":4,"c":10,"s":"P","x":25,"y":1.0179,"l":0.9824,"h":1.0534},
{"r":4,"c":10,"s":"P","x":50,"y":0.9913,"l":0.9847,"h":0.9958},
{"r":4,"c":10,"s":"P","x":75,"y":0.9838,"l":0.9758,"h":0.9913},
{"r":4,"c":10,"s":"P","x":100,"y":0.9736,"l":0.9669,"h":0.9824},
{"r":4,"c":10,"s":"P","x":125,"y":0.9683,"l":0.9581,"h":0.978},
{"r":4,"c":10,"s":"P","x":150,"y":0.9638,"l":0.9527,"h":0.9758},
{"r":4,"c":10,"s":"P","x":175,"y":0.9638,"l":0.9514,"h":0.9758},
{"r":4,"c":10,"s":"P","x":200,"y":0.9625,"l":0.9514,"h":0.9758},
{"r":4,"c":10,"s":"P","x":225,"y":0.9625,"l":0.9514,"h":0.9736},
{"r":4,"c":10,"s":"P","x":250,"y":0.9625,"l":0.9514,"h":0.9736},
{"r":4,"c":10,"s":"P","x":275,"y":0.9683,"l":0.9545,"h":0.9758},
{"r":4,"c":10,"s":"P","x":300,"y":0.9638,"l":0.9492,"h":0.978},
{"r":4,"c":10,"s":"P","x":325,"y":0.9594,"l":0.9426,"h":0.9802},
{"r":4,"c":10,"s":"P","x":350,"y":0.9594,"l":0.9403,"h":0.9802},
{"r":4,"c":10,"s":"P","x":375,"y":0.9603,"l":0.9381,"h":0.9793},
{"r":4,"c":10,"s":"P","x":400,"y":0.9527,"l":0.9315,"h":0.9736},
{"r":4,"c":10,"s":"G","x":25,"y":1.0148,"l":1.0078,"h":1.0218},
{"r":4,"c":10,"s":"G","x":50,"y":0.9926,"l":0.9856,"h":0.9996},
{"r":4,"c":10,"s":"G","x":75,"y":0.9692,"l":0.9622,"h":0.9762},
{"r":4,"c":10,"s":"G","x":100,"y":0.9625,"l":0.9555,"h":0.9695},
{"r":4,"c":10,"s":"G","x":125,"y":0.9559,"l":0.9489,"h":0.9629},
{"r":4,"c":10,"s":"G","x":150,"y":0.9505,"l":0.9435,"h":0.9575},
{"r":4,"c":10,"s":"G","x":175,"y":0.9461,"l":0.9391,"h":0.9531},
{"r":4,"c":10,"s":"G","x":200,"y":0.9456,"l":0.9386,"h":0.9526},
{"r":4,"c":10,"s":"G","x":225,"y":0.9412,"l":0.9342,"h":0.9482},
{"r":4,"c":10,"s":"G","x":250,"y":0.9372,"l":0.9302,"h":0.9442},
{"r":4,"c":10,"s":"G","x":275,"y":0.9359,"l":0.9289,"h":0.9429},
{"r":4,"c":10,"s":"G","x":300,"y":0.9324,"l":0.9254,"h":0.9394},
{"r":4,"c":10,"s":"G","x":325,"y":0.9293,"l":0.9223,"h":0.9363},
{"r":4,"c":10,"s":"G","x":350,"y":0.9279,"l":0.9209,"h":0.9349},
{"r":4,"c":10,"s":"G","x":375,"y":0.9262,"l":0.9192,"h":0.9332},
{"r":4,"c":10,"s":"G","x":400,"y":0.9239,"l":0.9169,"h":0.9309},
{"r":4,"c":30,"s":"A","y":1.0776},{"r":4,"c":30,"s":"D","y":1.0898},
{"r":4,"c":30,"s":"B","x":25,"y":0.9984,"l":0.9799,"h":1.0141},
{"r":4,"c":30,"s":"B","x":50,"y":0.9879,"l":0.9687,"h":1.0078},
{"r":4,"c":30,"s":"B","x":75,"y":0.9938,"l":0.9792,"h":1.0099},
{"r":4,"c":30,"s":"B","x":100,"y":0.9977,"l":0.9792,"h":1.0169},
{"r":4,"c":30,"s":"B","x":125,"y":1.0141,"l":0.9914,"h":1.036},
{"r":4,"c":30,"s":"B","x":150,"y":1.0123,"l":0.9904,"h":1.035},
{"r":4,"c":30,"s":"B","x":175,"y":1.0106,"l":0.9879,"h":1.035},
{"r":4,"c":30,"s":"B","x":200,"y":1.0106,"l":0.9862,"h":1.035},
{"r":4,"c":30,"s":"B","x":225,"y":1.0116,"l":0.9862,"h":1.0367},
{"r":4,"c":30,"s":"B","x":250,"y":0.9966,"l":0.9705,"h":1.0217},
{"r":4,"c":30,"s":"B","x":300,"y":0.9977,"l":0.9722,"h":1.021},
{"r":4,"c":30,"s":"B","x":325,"y":0.9886,"l":0.9705,"h":1.0054},
{"r":4,"c":30,"s":"B","x":375,"y":0.9799,"l":0.967,"h":0.9931},
{"r":4,"c":30,"s":"B","x":400,"y":0.9799,"l":0.967,"h":0.9931},
{"r":4,"c":30,"s":"R","x":25,"y":1.0193,"l":1.0093,"h":1.0293},
{"r":4,"c":30,"s":"R","x":50,"y":0.9792,"l":0.9712,"h":0.9872},
{"r":4,"c":30,"s":"R","x":75,"y":0.9565,"l":0.9485,"h":0.9645},
{"r":4,"c":30,"s":"R","x":100,"y":0.9426,"l":0.9346,"h":0.9506},
{"r":4,"c":30,"s":"R","x":125,"y":0.9345,"l":0.9265,"h":0.9425},
{"r":4,"c":30,"s":"R","x":150,"y":0.9251,"l":0.9171,"h":0.9331},
{"r":4,"c":30,"s":"R","x":175,"y":0.9181,"l":0.9101,"h":0.9261},
{"r":4,"c":30,"s":"R","x":200,"y":0.9129,"l":0.9049,"h":0.9209},
{"r":4,"c":30,"s":"R","x":225,"y":0.9077,"l":0.8997,"h":0.9157},
{"r":4,"c":30,"s":"R","x":250,"y":0.9035,"l":0.8955,"h":0.9115},
{"r":4,"c":30,"s":"R","x":275,"y":0.9025,"l":0.8945,"h":0.9105},
{"r":4,"c":30,"s":"R","x":300,"y":0.8983,"l":0.8903,"h":0.9063},
{"r":4,"c":30,"s":"R","x":325,"y":0.8962,"l":0.8882,"h":0.9042},
{"r":4,"c":30,"s":"R","x":350,"y":0.8944,"l":0.8864,"h":0.9024},
{"r":4,"c":30,"s":"R","x":375,"y":0.8927,"l":0.8847,"h":0.9007},
{"r":4,"c":30,"s":"R","x":400,"y":0.8913,"l":0.8833,"h":0.8993},
{"r":4,"c":30,"s":"P","x":25,"y":1.0413,"l":1.0176,"h":1.0664},
{"r":4,"c":30,"s":"P","x":50,"y":0.9879,"l":0.9827,"h":0.9966},
{"r":4,"c":30,"s":"P","x":75,"y":0.9729,"l":0.9652,"h":0.9809},
{"r":4,"c":30,"s":"P","x":100,"y":0.9635,"l":0.9548,"h":0.9722},
{"r":4,"c":30,"s":"P","x":125,"y":0.9583,"l":0.9513,"h":0.9652},
{"r":4,"c":30,"s":"P","x":150,"y":0.953,"l":0.9426,"h":0.9652},
{"r":4,"c":30,"s":"P","x":175,"y":0.9506,"l":0.9391,"h":0.9645},
{"r":4,"c":30,"s":"P","x":200,"y":0.9506,"l":0.9366,"h":0.9645},
{"r":4,"c":30,"s":"P","x":225,"y":0.9506,"l":0.9356,"h":0.9652},
{"r":4,"c":30,"s":"P","x":250,"y":0.9495,"l":0.9339,"h":0.9652},
{"r":4,"c":30,"s":"P","x":275,"y":0.9495,"l":0.9325,"h":0.9652},
{"r":4,"c":30,"s":"P","x":300,"y":0.9478,"l":0.9304,"h":0.9652},
{"r":4,"c":30,"s":"P","x":325,"y":0.9454,"l":0.9269,"h":0.9652},
{"r":4,"c":30,"s":"P","x":350,"y":0.9415,"l":0.9227,"h":0.9652},
{"r":4,"c":30,"s":"P","x":375,"y":0.9415,"l":0.9199,"h":0.9652},
{"r":4,"c":30,"s":"P","x":400,"y":0.9401,"l":0.9157,"h":0.9652},
{"r":4,"c":30,"s":"G","x":25,"y":1.0367,"l":1.0267,"h":1.0467},
{"r":4,"c":30,"s":"G","x":50,"y":0.9862,"l":0.9812,"h":0.9912},
{"r":4,"c":30,"s":"G","x":75,"y":0.9659,"l":0.9609,"h":0.9709},
{"r":4,"c":30,"s":"G","x":100,"y":0.9555,"l":0.9505,"h":0.9605},
{"r":4,"c":30,"s":"G","x":125,"y":0.945,"l":0.94,"h":0.95},
{"r":4,"c":30,"s":"G","x":150,"y":0.938,"l":0.933,"h":0.943},
{"r":4,"c":30,"s":"G","x":175,"y":0.9304,"l":0.9254,"h":0.9354},
{"r":4,"c":30,"s":"G","x":200,"y":0.9276,"l":0.9226,"h":0.9326},
{"r":4,"c":30,"s":"G","x":225,"y":0.9244,"l":0.9194,"h":0.9294},
{"r":4,"c":30,"s":"G","x":250,"y":0.9199,"l":0.9149,"h":0.9249},
{"r":4,"c":30,"s":"G","x":275,"y":0.9171,"l":0.9121,"h":0.9221},
{"r":4,"c":30,"s":"G","x":300,"y":0.9129,"l":0.9079,"h":0.9179},
{"r":4,"c":30,"s":"G","x":325,"y":0.9094,"l":0.9044,"h":0.9144},
{"r":4,"c":30,"s":"G","x":350,"y":0.9077,"l":0.9027,"h":0.9127},
{"r":4,"c":30,"s":"G","x":375,"y":0.9077,"l":0.9027,"h":0.9127},
{"r":4,"c":30,"s":"G","x":400,"y":0.907,"l":0.902,"h":0.912},
{"r":5,"c":5,"s":"A","y":1.8552},{"r":5,"c":5,"s":"D","y":1.6995},
{"r":5,"c":5,"s":"B","x":25,"y":1.4719,"l":1.4424,"h":1.4966},
{"r":5,"c":5,"s":"B","x":50,"y":1.4552,"l":1.4276,"h":1.4867},
{"r":5,"c":5,"s":"B","x":75,"y":1.4424,"l":1.4128,"h":1.4768},
{"r":5,"c":5,"s":"B","x":100,"y":1.4552,"l":1.4256,"h":1.4787},
{"r":5,"c":5,"s":"B","x":125,"y":1.4621,"l":1.4325,"h":1.4887},
{"r":5,"c":5,"s":"B","x":150,"y":1.4473,"l":1.4148,"h":1.4818},
{"r":5,"c":5,"s":"B","x":175,"y":1.4453,"l":1.4128,"h":1.4818},
{"r":5,"c":5,"s":"B","x":200,"y":1.4453,"l":1.4128,"h":1.4818},
{"r":5,"c":5,"s":"B","x":225,"y":1.4305,"l":1.3921,"h":1.4719},
{"r":5,"c":5,"s":"B","x":250,"y":1.4394,"l":1.4128,"h":1.4719},
{"r":5,"c":5,"s":"B","x":300,"y":1.4394,"l":1.4128,"h":1.4719},
{"r":5,"c":5,"s":"B","x":325,"y":1.4493,"l":1.4177,"h":1.4818},
{"r":5,"c":5,"s":"B","x":400,"y":1.4493,"l":1.4177,"h":1.4818},
{"r":5,"c":5,"s":"R","x":25,"y":1.4355,"l":1.4205,"h":1.4505},
{"r":5,"c":5,"s":"R","x":50,"y":1.4099,"l":1.3949,"h":1.4249},
{"r":5,"c":5,"s":"R","x":75,"y":1.3862,"l":1.3712,"h":1.4012},
{"r":5,"c":5,"s":"R","x":100,"y":1.3665,"l":1.3485,"h":1.3835},
{"r":5,"c":5,"s":"R","x":125,"y":1.3635,"l":1.3455,"h":1.3815},
{"r":5,"c":5,"s":"R","x":150,"y":1.3567,"l":1.3377,"h":1.3757},
{"r":5,"c":5,"s":"R","x":175,"y":1.3438,"l":1.3238,"h":1.3638},
{"r":5,"c":5,"s":"R","x":200,"y":1.3369,"l":1.3169,"h":1.3569},
{"r":5,"c":5,"s":"R","x":225,"y":1.3291,"l":1.3081,"h":1.3501},
{"r":5,"c":5,"s":"R","x":250,"y":1.3192,"l":1.2972,"h":1.3412},
{"r":5,"c":5,"s":"R","x":275,"y":1.3172,"l":1.2952,"h":1.3392},
{"r":5,"c":5,"s":"R","x":300,"y":1.3113,"l":1.2883,"h":1.3343},
{"r":5,"c":5,"s":"R","x":325,"y":1.2995,"l":1.2755,"h":1.3235},
{"r":5,"c":5,"s":"R","x":350,"y":1.2975,"l":1.2735,"h":1.3215},
{"r":5,"c":5,"s":"R","x":375,"y":1.2946,"l":1.2706,"h":1.3186},
{"r":5,"c":5,"s":"R","x":400,"y":1.2897,"l":1.2647,"h":1.3147},
{"r":5,"c":5,"s":"P","x":25,"y":1.4571,"l":1.4371,"h":1.4768},
{"r":5,"c":5,"s":"P","x":50,"y":1.4079,"l":1.3959,"h":1.4199},
{"r":5,"c":5,"s":"P","x":75,"y":1.4,"l":1.388,"h":1.412},
{"r":5,"c":5,"s":"P","x":100,"y":1.3951,"l":1.3831,"h":1.4071},
{"r":5,"c":5,"s":"P","x":125,"y":1.3882,"l":1.3762,"h":1.4002},
{"r":5,"c":5,"s":"P","x":150,"y":1.3833,"l":1.3713,"h":1.3953},
{"r":5,"c":5,"s":"P","x":175,"y":1.3783,"l":1.3663,"h":1.3903},
{"r":5,"c":5,"s":"P","x":200,"y":1.3783,"l":1.3663,"h":1.3903},
{"r":5,"c":5,"s":"P","x":225,"y":1.3783,"l":1.3663,"h":1.3903},
{"r":5,"c":5,"s":"P","x":250,"y":1.3783,"l":1.3663,"h":1.3903},
{"r":5,"c":5,"s":"P","x":275,"y":1.3783,"l":1.3663,"h":1.3903},
{"r":5,"c":5,"s":"P","x":300,"y":1.3783,"l":1.3663,"h":1.3903},
{"r":5,"c":5,"s":"P","x":325,"y":1.3783,"l":1.3663,"h":1.3903},
{"r":5,"c":5,"s":"P","x":350,"y":1.3685,"l":1.3565,"h":1.3845},
{"r":5,"c":5,"s":"P","x":375,"y":1.3734,"l":1.3594,"h":1.3894},
{"r":5,"c":5,"s":"P","x":400,"y":1.3685,"l":1.3586,"h":1.3882},
{"r":5,"c":5,"s":"G","x":25,"y":1.4522,"l":1.4322,"h":1.4722},
{"r":5,"c":5,"s":"G","x":50,"y":1.4059,"l":1.3939,"h":1.4179},
{"r":5,"c":5,"s":"G","x":75,"y":1.3764,"l":1.3644,"h":1.3884},
{"r":5,"c":5,"s":"G","x":100,"y":1.3685,"l":1.3565,"h":1.3805},
{"r":5,"c":5,"s":"G","x":125,"y":1.3606,"l":1.3486,"h":1.3726},
{"r":5,"c":5,"s":"G","x":150,"y":1.3488,"l":1.3368,"h":1.3608},
{"r":5,"c":5,"s":"G","x":175,"y":1.3409,"l":1.3289,"h":1.3529},
{"r":5,"c":5,"s":"G","x":200,"y":1.3389,"l":1.3269,"h":1.3509},
{"r":5,"c":5,"s":"G","x":225,"y":1.334,"l":1.322,"h":1.346},
{"r":5,"c":5,"s":"G","x":250,"y":1.332,"l":1.32,"h":1.344},
{"r":5,"c":5,"s":"G","x":275,"y":1.331,"l":1.319,"h":1.343},
{"r":5,"c":5,"s":"G","x":300,"y":1.3291,"l":1.3171,"h":1.3411},
{"r":5,"c":5,"s":"G","x":325,"y":1.3261,"l":1.3141,"h":1.3381},
{"r":5,"c":5,"s":"G","x":350,"y":1.3241,"l":1.3121,"h":1.3361},
{"r":5,"c":5,"s":"G","x":375,"y":1.3241,"l":1.3121,"h":1.3361},
{"r":5,"c":5,"s":"G","x":400,"y":1.3212,"l":1.3092,"h":1.3332},
{"r":5,"c":10,"s":"A","y":1.6607},{"r":5,"c":10,"s":"D","y":1.6058},
{"r":5,"c":10,"s":"B","x":25,"y":1.4156,"l":1.3961,"h":1.4322},
{"r":5,"c":10,"s":"B","x":50,"y":1.4012,"l":1.3773,"h":1.4279},
{"r":5,"c":10,"s":"B","x":75,"y":1.3889,"l":1.365,"h":1.4135},
{"r":5,"c":10,"s":"B","x":100,"y":1.4084,"l":1.3795,"h":1.4351},
{"r":5,"c":10,"s":"B","x":125,"y":1.4192,"l":1.3903,"h":1.4445},
{"r":5,"c":10,"s":"B","x":150,"y":1.4033,"l":1.3686,"h":1.4373},
{"r":5,"c":10,"s":"B","x":175,"y":1.4033,"l":1.3686,"h":1.4373},
{"r":5,"c":10,"s":"B","x":200,"y":1.4033,"l":1.3686,"h":1.4373},
{"r":5,"c":10,"s":"B","x":225,"y":1.3997,"l":1.3614,"h":1.4373},
{"r":5,"c":10,"s":"B","x":250,"y":1.4048,"l":1.3722,"h":1.4373},
{"r":5,"c":10,"s":"B","x":300,"y":1.4062,"l":1.3758,"h":1.4373},
{"r":5,"c":10,"s":"B","x":325,"y":1.4156,"l":1.3831,"h":1.4467},
{"r":5,"c":10,"s":"B","x":400,"y":1.4156,"l":1.3831,"h":1.4467},
{"r":5,"c":10,"s":"R","x":25,"y":1.399,"l":1.387,"h":1.411},
{"r":5,"c":10,"s":"R","x":50,"y":1.365,"l":1.353,"h":1.377},
{"r":5,"c":10,"s":"R","x":75,"y":1.3448,"l":1.3328,"h":1.3568},
{"r":5,"c":10,"s":"R","x":100,"y":1.3289,"l":1.3169,"h":1.3409},
{"r":5,"c":10,"s":"R","x":125,"y":1.3108,"l":1.2978,"h":1.3238},
{"r":5,"c":10,"s":"R","x":150,"y":1.3035,"l":1.2895,"h":1.3175},
{"r":5,"c":10,"s":"R","x":175,"y":1.2927,"l":1.2777,"h":1.3077},
{"r":5,"c":10,"s":"R","x":200,"y":1.2891,"l":1.2731,"h":1.3051},
{"r":5,"c":10,"s":"R","x":225,"y":1.2797,"l":1.2627,"h":1.2967},
{"r":5,"c":10,"s":"R","x":250,"y":1.2732,"l":1.2552,"h":1.2912},
{"r":5,"c":10,"s":"R","x":275,"y":1.2725,"l":1.2545,"h":1.2905},
{"r":5,"c":10,"s":"R","x":300,"y":1.2674,"l":1.2494,"h":1.2854},
{"r":5,"c":10,"s":"R","x":325,"y":1.2602,"l":1.2422,"h":1.2782},
{"r":5,"c":10,"s":"R","x":350,"y":1.2587,"l":1.2407,"h":1.2767},
{"r":5,"c":10,"s":"R","x":375,"y":1.2566,"l":1.2386,"h":1.2746},
{"r":5,"c":10,"s":"R","x":400,"y":1.2472,"l":1.2292,"h":1.2652},
{"r":5,"c":10,"s":"P","x":25,"y":1.4048,"l":1.3686,"h":1.4518},
{"r":5,"c":10,"s":"P","x":50,"y":1.3686,"l":1.36,"h":1.378},
{"r":5,"c":10,"s":"P","x":75,"y":1.3599,"l":1.35,"h":1.37},
{"r":5,"c":10,"s":"P","x":100,"y":1.3505,"l":1.34,"h":1.361},
{"r":5,"c":10,"s":"P","x":125,"y":1.3411,"l":1.331,"h":1.351},
{"r":5,"c":10,"s":"P","x":150,"y":1.3397,"l":1.33,"h":1.35},
{"r":5,"c":10,"s":"P","x":175,"y":1.3339,"l":1.324,"h":1.344},
{"r":5,"c":10,"s":"P","x":200,"y":1.3339,"l":1.324,"h":1.344},
{"r":5,"c":10,"s":"P","x":225,"y":1.3339,"l":1.324,"h":1.344},
{"r":5,"c":10,"s":"P","x":250,"y":1.3339,"l":1.324,"h":1.344},
{"r":5,"c":10,"s":"P","x":275,"y":1.3339,"l":1.324,"h":1.344},
{"r":5,"c":10,"s":"P","x":300,"y":1.331,"l":1.32,"h":1.342},
{"r":5,"c":10,"s":"P","x":325,"y":1.3274,"l":1.315,"h":1.34},
{"r":5,"c":10,"s":"P","x":350,"y":1.3216,"l":1.303,"h":1.34},
{"r":5,"c":10,"s":"P","x":375,"y":1.3238,"l":1.3,"h":1.345},
{"r":5,"c":10,"s":"P","x":400,"y":1.3216,"l":1.2963,"h":1.3469},
{"r":5,"c":10,"s":"G","x":25,"y":1.4279,"l":1.4159,"h":1.4399},
{"r":5,"c":10,"s":"G","x":50,"y":1.3722,"l":1.3602,"h":1.3842},
{"r":5,"c":10,"s":"G","x":75,"y":1.3448,"l":1.3328,"h":1.3568},
{"r":5,"c":10,"s":"G","x":100,"y":1.331,"l":1.319,"h":1.343},
{"r":5,"c":10,"s":"G","x":125,"y":1.3252,"l":1.3132,"h":1.3372},
{"r":5,"c":10,"s":"G","x":150,"y":1.3108,"l":1.2988,"h":1.3228},
{"r":5,"c":10,"s":"G","x":175,"y":1.3057,"l":1.2937,"h":1.3177},
{"r":5,"c":10,"s":"G","x":200,"y":1.3035,"l":1.2915,"h":1.3155},
{"r":5,"c":10,"s":"G","x":225,"y":1.2985,"l":1.2865,"h":1.3105},
{"r":5,"c":10,"s":"G","x":250,"y":1.2905,"l":1.2785,"h":1.3025},
{"r":5,"c":10,"s":"G","x":275,"y":1.2855,"l":1.2735,"h":1.2975},
{"r":5,"c":10,"s":"G","x":300,"y":1.2819,"l":1.2699,"h":1.2939},
{"r":5,"c":10,"s":"G","x":325,"y":1.2797,"l":1.2677,"h":1.2917},
{"r":5,"c":10,"s":"G","x":350,"y":1.2782,"l":1.2662,"h":1.2902},
{"r":5,"c":10,"s":"G","x":375,"y":1.2782,"l":1.2662,"h":1.2902},
{"r":5,"c":10,"s":"G","x":400,"y":1.2746,"l":1.2626,"h":1.2866},
{"r":5,"c":30,"s":"A","y":1.5289},{"r":5,"c":30,"s":"D","y":1.5353},
{"r":5,"c":30,"s":"B","x":25,"y":1.3805,"l":1.3621,"h":1.4016},
{"r":5,"c":30,"s":"B","x":50,"y":1.3553,"l":1.3411,"h":1.37},
{"r":5,"c":30,"s":"B","x":75,"y":1.3489,"l":1.3332,"h":1.3647},
{"r":5,"c":30,"s":"B","x":100,"y":1.3711,"l":1.3489,"h":1.3963},
{"r":5,"c":30,"s":"B","x":125,"y":1.3821,"l":1.3568,"h":1.4058},
{"r":5,"c":30,"s":"B","x":150,"y":1.3647,"l":1.3437,"h":1.3884},
{"r":5,"c":30,"s":"B","x":175,"y":1.3611,"l":1.3411,"h":1.3884},
{"r":5,"c":30,"s":"B","x":200,"y":1.3605,"l":1.3384,"h":1.3911},
{"r":5,"c":30,"s":"B","x":225,"y":1.3658,"l":1.3437,"h":1.3963},
{"r":5,"c":30,"s":"B","x":250,"y":1.3726,"l":1.3489,"h":1.4016},
{"r":5,"c":30,"s":"B","x":300,"y":1.3711,"l":1.3463,"h":1.4016},
{"r":5,"c":30,"s":"B","x":325,"y":1.3779,"l":1.3542,"h":1.4042},
{"r":5,"c":30,"s":"B","x":400,"y":1.3779,"l":1.3542,"h":1.4042},
{"r":5,"c":30,"s":"R","x":25,"y":1.4332,"l":1.4132,"h":1.4532},
{"r":5,"c":30,"s":"R","x":50,"y":1.3805,"l":1.3655,"h":1.3955},
{"r":5,"c":30,"s":"R","x":75,"y":1.3568,"l":1.3418,"h":1.3718},
{"r":5,"c":30,"s":"R","x":100,"y":1.3332,"l":1.3182,"h":1.3482},
{"r":5,"c":30,"s":"R","x":125,"y":1.3163,"l":1.3013,"h":1.3313},
{"r":5,"c":30,"s":"R","x":150,"y":1.3042,"l":1.2892,"h":1.3192},
{"r":5,"c":30,"s":"R","x":175,"y":1.2937,"l":1.2787,"h":1.3087},
{"r":5,"c":30,"s":"R","x":200,"y":1.2884,"l":1.2734,"h":1.3034},
{"r":5,"c":30,"s":"R","x":225,"y":1.2805,"l":1.2655,"h":1.2955},
{"r":5,"c":30,"s":"R","x":250,"y":1.2711,"l":1.2561,"h":1.2861},
{"r":5,"c":30,"s":"R","x":275,"y":1.2689,"l":1.2539,"h":1.2839},
{"r":5,"c":30,"s":"R","x":300,"y":1.2621,"l":1.2471,"h":1.2771},
{"r":5,"c":30,"s":"R","x":325,"y":1.2595,"l":1.2445,"h":1.2745},
{"r":5,"c":30,"s":"R","x":350,"y":1.2584,"l":1.2434,"h":1.2734},
{"r":5,"c":30,"s":"R","x":375,"y":1.2568,"l":1.2418,"h":1.2718},
{"r":5,"c":30,"s":"R","x":400,"y":1.2516,"l":1.2366,"h":1.2666},
{"r":5,"c":30,"s":"P","x":25,"y":1.4568,"l":1.4332,"h":1.4858},
{"r":5,"c":30,"s":"P","x":50,"y":1.3832,"l":1.372,"h":1.395},
{"r":5,"c":30,"s":"P","x":75,"y":1.3647,"l":1.353,"h":1.376},
{"r":5,"c":30,"s":"P","x":100,"y":1.3542,"l":1.342,"h":1.365},
{"r":5,"c":30,"s":"P","x":125,"y":1.3426,"l":1.33,"h":1.354},
{"r":5,"c":30,"s":"P","x":150,"y":1.3358,"l":1.322,"h":1.348},
{"r":5,"c":30,"s":"P","x":175,"y":1.3321,"l":1.318,"h":1.345},
{"r":5,"c":30,"s":"P","x":200,"y":1.3305,"l":1.314,"h":1.345},
{"r":5,"c":30,"s":"P","x":225,"y":1.3279,"l":1.31,"h":1.344},
{"r":5,"c":30,"s":"P","x":250,"y":1.3253,"l":1.306,"h":1.343},
{"r":5,"c":30,"s":"P","x":275,"y":1.3242,"l":1.303,"h":1.344},
{"r":5,"c":30,"s":"P","x":300,"y":1.3226,"l":1.3,"h":1.345},
{"r":5,"c":30,"s":"P","x":325,"y":1.32,"l":1.296,"h":1.346},
{"r":5,"c":30,"s":"P","x":350,"y":1.3174,"l":1.29,"h":1.346},
{"r":5,"c":30,"s":"P","x":375,"y":1.3163,"l":1.286,"h":1.346},
{"r":5,"c":30,"s":"P","x":400,"y":1.3147,"l":1.2832,"h":1.3463},
{"r":5,"c":30,"s":"G","x":25,"y":1.4542,"l":1.4342,"h":1.4742},
{"r":5,"c":30,"s":"G","x":50,"y":1.3832,"l":1.3732,"h":1.3932},
{"r":5,"c":30,"s":"G","x":75,"y":1.3595,"l":1.3515,"h":1.3675},
{"r":5,"c":30,"s":"G","x":100,"y":1.3437,"l":1.3357,"h":1.3517},
{"r":5,"c":30,"s":"G","x":125,"y":1.3226,"l":1.3146,"h":1.3306},
{"r":5,"c":30,"s":"G","x":150,"y":1.3132,"l":1.3052,"h":1.3212},
{"r":5,"c":30,"s":"G","x":175,"y":1.3058,"l":1.2978,"h":1.3138},
{"r":5,"c":30,"s":"G","x":200,"y":1.3016,"l":1.2936,"h":1.3096},
{"r":5,"c":30,"s":"G","x":225,"y":1.2911,"l":1.2831,"h":1.2991},
{"r":5,"c":30,"s":"G","x":250,"y":1.2847,"l":1.2767,"h":1.2927},
{"r":5,"c":30,"s":"G","x":275,"y":1.2779,"l":1.2699,"h":1.2859},
{"r":5,"c":30,"s":"G","x":300,"y":1.2753,"l":1.2673,"h":1.2833},
{"r":5,"c":30,"s":"G","x":325,"y":1.27,"l":1.262,"h":1.278},
{"r":5,"c":30,"s":"G","x":350,"y":1.2684,"l":1.2604,"h":1.2764},
{"r":5,"c":30,"s":"G","x":375,"y":1.2658,"l":1.2578,"h":1.2738},
{"r":5,"c":30,"s":"G","x":400,"y":1.2647,"l":1.2567,"h":1.2727}
]},
"data":{"name":"d"},
"transform":[{"window":[{"op":"row_number","as":"i"}],"groupby":["r","c","s"],"sort":[{"field":"x"}]}],
"facet":{
 "row":{"field":"r","type":"ordinal","title":null,"header":{"labelExpr":"['NLL (no shift)','NLL (severity = 1)','NLL (severity = 2)','NLL (severity = 3)','NLL (severity = 4)','NLL (severity = 5)'][datum.value]","labelAngle":-90,"labelOrient":"left","labelFontSize":16,"labelPadding":37,"labelAlign":"center"}},
 "column":{"field":"c","type":"ordinal","title":null,"header":{"labelExpr":"'M = ' + datum.value","labelFontSize":18.5,"labelPadding":3}}
},
"spacing":{"row":22,"column":71.7},
"bounds":"flush",
"resolve":{"scale":{"y":"independent"}},
"spec":{
 "width":277,"height":222,
 "layer":[
  {"transform":[{"filter":"isValid(datum.x)"}],
   "mark":{"type":"area","opacity":0.2},
   "encoding":{
    "x":{"field":"x","type":"quantitative","scale":{"domain":[25,400],"nice":false,"zero":false},"axis":{"values":[100,200,300,400],"title":"Number of networks evaluated","labelAlign":"right"}},
    "y":{"field":"l","type":"quantitative","scale":{"zero":false,"nice":false,"padding":10},"axis":{"title":null,"tickCount":4}},
    "y2":{"field":"h"},
    "color":{"field":"s","type":"nominal","scale":{"domain":["A","D","B","R","P","G"],"range":["#FF8C00","#000000","#1E90FF","#DC143C","#800080","#228B22"]}}
   }},
  {"transform":[{"filter":"!isValid(datum.x)"}],
   "mark":{"type":"rule","strokeWidth":2},
   "encoding":{
    "y":{"field":"y","type":"quantitative"},
    "color":{"field":"s","type":"nominal","scale":{"domain":["A","D","B","R","P","G"],"range":["#FF8C00","#000000","#1E90FF","#DC143C","#800080","#228B22"]}},
    "strokeDash":{"field":"s","type":"nominal","scale":{"domain":["A","D"],"range":[[10,3,2,3],[7,3]]},"legend":null}
   }},
  {"transform":[{"filter":"isValid(datum.x)"}],
   "mark":{"type":"line","strokeWidth":1.8},
   "encoding":{
    "x":{"field":"x","type":"quantitative"},
    "y":{"field":"y","type":"quantitative"},
    "color":{"field":"s","type":"nominal","scale":{"domain":["A","D","B","R","P","G"],"range":["#FF8C00","#000000","#1E90FF","#DC143C","#800080","#228B22"]},
     "legend":{"title":null,"orient":"none","legendX":813,"legendY":64,"direction":"vertical",
      "labelExpr":"{'A':'DeepEns (AmoebaNet)','D':'DeepEns (DARTS)','B':'DeepEns (RS)','R':'NES-RE','P':'NES-RE-0','G':'NES-RS'}[datum.value]",
      "labelFontSize":9.6,"labelColor":"#000","symbolSize":100,"labelOffset":18,"rowPadding":2.5,"padding":7,
      "fillColor":"rgba(255,255,255,0.8)","strokeColor":"#cccccc","cornerRadius":3,
      "encode":{"symbols":{"update":{
        "shape":{"signal":"{'A':'M-2,0H0.4M1.1,0H1.5','D':'M-2,0H-0.4M0.4,0H2','B':'M-2,0H2M0.7,0A0.7,0.7,0,1,1,-0.7,0A0.7,0.7,0,1,1,0.7,0Z','R':'M-2,0H2M-0.6,-0.6L0.6,0.6M-0.6,0.6L0.6,-0.6','P':'M-2,0H2M-0.7,0L0.6,-0.7L0.6,0.7Z','G':'M-2,0H2M-0.7,-0.6L0.7,-0.6L0,0.7Z'}[datum.value]"},
        "fill":{"scale":"color","field":"value"},
        "stroke":{"scale":"color","field":"value"},
        "strokeWidth":{"value":1.5},
        "opacity":{"value":1}
      }}}}}
   }},
  {"transform":[{"filter":"datum.s=='B' && datum.i%2==1"}],
   "mark":{"type":"point","shape":"circle","filled":true,"color":"#1E90FF","size":60,"opacity":1,"clip":true},
   "encoding":{"x":{"field":"x","type":"quantitative"},"y":{"field":"y","type":"quantitative"}}},
  {"transform":[{"filter":"datum.s=='R' && datum.i%2==1"}],
   "mark":{"type":"point","shape":"M-1,-1L1,1M-1,1L1,-1","filled":false,"color":"#DC143C","size":45,"strokeWidth":1.3,"opacity":1,"clip":true},
   "encoding":{"x":{"field":"x","type":"quantitative"},"y":{"field":"y","type":"quantitative"}}},
  {"transform":[{"filter":"datum.s=='P' && datum.i%2==1"}],
   "mark":{"type":"point","shape":"triangle-left","filled":true,"color":"#800080","size":65,"opacity":1,"clip":true},
   "encoding":{"x":{"field":"x","type":"quantitative"},"y":{"field":"y","type":"quantitative"}}},
  {"transform":[{"filter":"datum.s=='G' && datum.i%2==1"}],
   "mark":{"type":"point","shape":"triangle-down","filled":true,"color":"#228B22","size":65,"opacity":1,"clip":true},
   "encoding":{"x":{"field":"x","type":"quantitative"},"y":{"field":"y","type":"quantitative"}}}
 ]
},
"config":{
 "font":"DejaVu Sans",
 "view":{"stroke":"#3a3a3a","strokeWidth":1},
 "axis":{"grid":true,"gridColor":"#b0b0b0","gridDash":[1,1.6],"gridWidth":0.8,"domain":false,"tickColor":"#000","tickSize":5,"tickWidth":1,"labelFont":"DejaVu Sans","labelFontSize":15,"labelColor":"#000","labelPadding":2.5,"labelFlush":false,"labelOverlap":false,"titleFont":"DejaVu Sans","titleFontSize":16,"titleFontWeight":"normal","titleColor":"#000","titlePadding":3},
 "header":{"labelFont":"DejaVu Sans","labelColor":"#000"},
 "legend":{"labelFont":"DejaVu Sans"}
}
}
